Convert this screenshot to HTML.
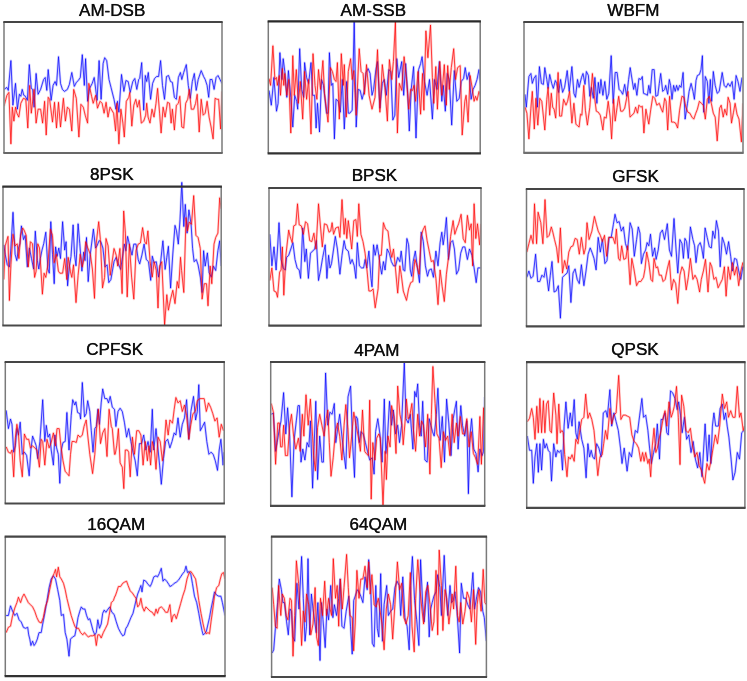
<!DOCTYPE html>
<html><head><meta charset="utf-8"><style>
html,body{margin:0;padding:0;background:#fff;width:747px;height:681px;overflow:hidden}
svg{display:block}
text{font-family:"Liberation Sans",sans-serif;font-size:16.5px;fill:#111;stroke:#111;stroke-width:0.1px}
</style></head><body>
<svg width="747" height="681" viewBox="0 0 747 681">
<defs><filter id="bl" x="-5%" y="-5%" width="110%" height="110%"><feGaussianBlur stdDeviation="0.3"/></filter><clipPath id="c0"><rect x="4.5" y="22.5" width="217" height="130.0"/></clipPath><clipPath id="c1"><rect x="268.8" y="21.9" width="210.89999999999998" height="131.0"/></clipPath><clipPath id="c2"><rect x="524.5" y="22.5" width="218" height="129.8"/></clipPath><clipPath id="c3"><rect x="3.5" y="178.6" width="217.2" height="146.4"/></clipPath><clipPath id="c4"><rect x="269.5" y="188.5" width="211" height="136.60000000000002"/></clipPath><clipPath id="c5"><rect x="527.0" y="189.5" width="216.5" height="136.39999999999998"/></clipPath><clipPath id="c6"><rect x="5.8" y="362.5" width="217.89999999999998" height="140.5"/></clipPath><clipPath id="c7"><rect x="271.2" y="362.5" width="213.0" height="142.8"/></clipPath><clipPath id="c8"><rect x="527.2" y="362.7" width="217.19999999999993" height="144.60000000000002"/></clipPath><clipPath id="c9"><rect x="5.8" y="537.1" width="218.7" height="138.5"/></clipPath><clipPath id="c10"><rect x="272.1" y="537.1" width="213.79999999999995" height="139.39999999999998"/></clipPath></defs>
<g filter="url(#bl)">
<g clip-path="url(#c0)" fill="none" stroke-opacity="0.72" stroke-width="1.0" stroke-linejoin="round"><polyline points="4.0,89.4 6.9,87.4 8.3,90.4 10.9,60.6 12.9,105.2 15.5,83.4 17.4,109.2 19.4,94.3 20.8,96.3 22.2,89.4 23.8,95.3 25.4,96.3 27.4,100.3 29.3,64.6 31.3,88.4 32.7,89.4 34.1,107.2 36.1,73.5 38.1,94.3 40.6,89.4 43.6,79.5 45.2,77.5 46.8,90.4 48.2,69.6 51.1,100.3 53.1,85.4 55.1,81.5 56.5,85.4 58.5,56.7 60.5,83.4 62.4,89.4 64.4,91.4 67.4,89.4 69.4,84.4 71.8,72.5 74.3,86.4 76.3,82.4 78.3,80.5 80.3,77.5 82.3,54.7 84.3,85.4 85.6,58.7 87.6,101.3 89.6,88.4 92.2,83.4 94.2,77.5 97.1,100.3 99.1,60.6 101.1,99.3 103.1,63.6 104.7,57.7 106.7,60.6 109.0,79.5 111.0,87.4 114.0,99.3 115.9,109.2 117.5,101.3 118.9,112.2 121.5,74.5 123.9,91.4 125.9,80.5 128.2,81.5 130.2,92.4 132.8,81.5 134.8,78.5 136.8,89.4 138.7,79.5 139.7,78.5 141.7,62.6 143.7,110.2 145.3,75.5 146.7,81.5 148.3,72.5 150.6,99.3 152.6,83.4 154.6,78.5 156.6,76.5 158.6,76.5 160.6,60.6 162.5,85.4 164.5,99.3 166.5,76.5 168.5,75.5 170.5,81.5 172.4,82.4 174.4,97.3 176.4,99.3 178.4,77.5 180.4,72.5 181.8,79.5 183.7,72.5 186.3,64.6 188.3,85.4 190.3,98.3 192.3,81.5 194.3,73.5 196.2,90.4 198.2,79.5 201.2,70.6 203.6,76.5 205.2,79.5 207.1,85.4 208.7,97.3 210.1,79.5 212.1,79.5 214.1,89.4 216.1,77.5 218.0,75.5 220.0,79.5 222.0,83.4" stroke="#0000ff" stroke-opacity="0.2" stroke-width="2.4"/><polyline points="4.0,89.4 6.9,87.4 8.3,90.4 10.9,60.6 12.9,105.2 15.5,83.4 17.4,109.2 19.4,94.3 20.8,96.3 22.2,89.4 23.8,95.3 25.4,96.3 27.4,100.3 29.3,64.6 31.3,88.4 32.7,89.4 34.1,107.2 36.1,73.5 38.1,94.3 40.6,89.4 43.6,79.5 45.2,77.5 46.8,90.4 48.2,69.6 51.1,100.3 53.1,85.4 55.1,81.5 56.5,85.4 58.5,56.7 60.5,83.4 62.4,89.4 64.4,91.4 67.4,89.4 69.4,84.4 71.8,72.5 74.3,86.4 76.3,82.4 78.3,80.5 80.3,77.5 82.3,54.7 84.3,85.4 85.6,58.7 87.6,101.3 89.6,88.4 92.2,83.4 94.2,77.5 97.1,100.3 99.1,60.6 101.1,99.3 103.1,63.6 104.7,57.7 106.7,60.6 109.0,79.5 111.0,87.4 114.0,99.3 115.9,109.2 117.5,101.3 118.9,112.2 121.5,74.5 123.9,91.4 125.9,80.5 128.2,81.5 130.2,92.4 132.8,81.5 134.8,78.5 136.8,89.4 138.7,79.5 139.7,78.5 141.7,62.6 143.7,110.2 145.3,75.5 146.7,81.5 148.3,72.5 150.6,99.3 152.6,83.4 154.6,78.5 156.6,76.5 158.6,76.5 160.6,60.6 162.5,85.4 164.5,99.3 166.5,76.5 168.5,75.5 170.5,81.5 172.4,82.4 174.4,97.3 176.4,99.3 178.4,77.5 180.4,72.5 181.8,79.5 183.7,72.5 186.3,64.6 188.3,85.4 190.3,98.3 192.3,81.5 194.3,73.5 196.2,90.4 198.2,79.5 201.2,70.6 203.6,76.5 205.2,79.5 207.1,85.4 208.7,97.3 210.1,79.5 212.1,79.5 214.1,89.4 216.1,77.5 218.0,75.5 220.0,79.5 222.0,83.4" stroke="#0000ff"/><polyline points="4.0,106.2 6.9,95.3 8.9,92.4 10.9,143.9 12.3,107.2 13.9,121.1 15.5,107.2 16.9,113.2 18.8,117.1 20.8,103.3 23.4,98.3 25.8,99.3 27.8,128.0 29.7,85.4 31.3,113.2 33.3,95.3 34.1,89.4 36.1,123.1 38.1,109.2 40.6,109.2 42.6,123.1 44.6,101.3 46.2,135.0 48.2,97.3 49.6,99.3 52.5,122.1 54.5,102.3 56.5,128.0 58.5,102.3 60.5,127.0 63.4,98.3 65.4,121.1 67.4,107.2 69.4,109.2 71.8,131.0 73.7,89.4 76.3,98.3 78.9,137.0 80.9,104.3 83.3,107.2 85.2,115.2 87.6,123.1 88.8,83.4 91.6,96.3 93.2,103.3 95.6,95.3 97.5,108.2 100.1,101.3 102.1,103.3 104.1,113.2 106.1,102.3 108.0,117.1 110.0,107.2 113.6,113.2 115.6,131.0 116.9,103.3 118.9,143.9 120.9,109.2 122.9,123.1 124.3,137.0 126.3,101.3 128.8,97.3 129.8,92.4 131.8,126.1 133.8,105.2 135.8,99.3 137.4,107.2 139.3,100.3 141.3,123.1 143.7,121.1 145.7,115.2 146.7,103.3 148.1,117.1 150.0,123.1 152.0,109.2 154.0,117.1 156.0,103.3 157.6,88.4 159.6,113.2 161.1,133.0 163.1,107.2 165.1,117.1 167.5,102.3 169.5,103.3 171.1,123.1 172.4,109.2 174.4,130.0 176.4,105.2 178.4,103.3 179.8,96.3 181.8,127.0 183.7,128.0 185.7,103.3 187.7,99.3 189.3,89.4 191.3,109.2 193.7,109.2 195.6,103.3 197.2,94.3 199.2,132.0 201.2,99.3 203.2,115.2 205.2,113.2 207.1,101.3 209.1,117.1 211.1,127.0 213.1,138.9 215.1,98.3 217.0,99.3 218.6,99.3 220.6,129.0 222.0,91.4" stroke="#ff0000" stroke-opacity="0.2" stroke-width="2.4"/><polyline points="4.0,106.2 6.9,95.3 8.9,92.4 10.9,143.9 12.3,107.2 13.9,121.1 15.5,107.2 16.9,113.2 18.8,117.1 20.8,103.3 23.4,98.3 25.8,99.3 27.8,128.0 29.7,85.4 31.3,113.2 33.3,95.3 34.1,89.4 36.1,123.1 38.1,109.2 40.6,109.2 42.6,123.1 44.6,101.3 46.2,135.0 48.2,97.3 49.6,99.3 52.5,122.1 54.5,102.3 56.5,128.0 58.5,102.3 60.5,127.0 63.4,98.3 65.4,121.1 67.4,107.2 69.4,109.2 71.8,131.0 73.7,89.4 76.3,98.3 78.9,137.0 80.9,104.3 83.3,107.2 85.2,115.2 87.6,123.1 88.8,83.4 91.6,96.3 93.2,103.3 95.6,95.3 97.5,108.2 100.1,101.3 102.1,103.3 104.1,113.2 106.1,102.3 108.0,117.1 110.0,107.2 113.6,113.2 115.6,131.0 116.9,103.3 118.9,143.9 120.9,109.2 122.9,123.1 124.3,137.0 126.3,101.3 128.8,97.3 129.8,92.4 131.8,126.1 133.8,105.2 135.8,99.3 137.4,107.2 139.3,100.3 141.3,123.1 143.7,121.1 145.7,115.2 146.7,103.3 148.1,117.1 150.0,123.1 152.0,109.2 154.0,117.1 156.0,103.3 157.6,88.4 159.6,113.2 161.1,133.0 163.1,107.2 165.1,117.1 167.5,102.3 169.5,103.3 171.1,123.1 172.4,109.2 174.4,130.0 176.4,105.2 178.4,103.3 179.8,96.3 181.8,127.0 183.7,128.0 185.7,103.3 187.7,99.3 189.3,89.4 191.3,109.2 193.7,109.2 195.6,103.3 197.2,94.3 199.2,132.0 201.2,99.3 203.2,115.2 205.2,113.2 207.1,101.3 209.1,117.1 211.1,127.0 213.1,138.9 215.1,98.3 217.0,99.3 218.6,99.3 220.6,129.0 222.0,91.4" stroke="#ff0000"/></g>
<line x1="4" y1="22" x2="4" y2="153" stroke="#7a7a7a" stroke-width="1.5"/>
<line x1="222" y1="22" x2="222" y2="153" stroke="#7a7a7a" stroke-width="1.5"/>
<line x1="3.3" y1="22" x2="222.7" y2="22" stroke="#454545" stroke-width="2.2"/>
<line x1="3.3" y1="153" x2="222.7" y2="153" stroke="#686868" stroke-width="2.2"/>
<text transform="translate(79.00,16.10) scale(1.035,1)" style="stroke-width:0.7px;stroke-opacity:0.2">AM-DSB</text>
<text transform="translate(79.00,16.10) scale(1.035,1)">AM-DSB</text>
<g clip-path="url(#c1)" fill="none" stroke-opacity="0.72" stroke-width="1.0" stroke-linejoin="round"><polyline points="269.0,90.4 271.3,105.2 273.9,77.5 276.5,111.2 278.1,103.3 279.9,52.7 281.9,79.5 283.2,58.7 284.8,71.5 286.8,97.3 288.4,70.6 290.8,97.3 292.8,127.0 294.7,95.3 296.7,101.3 297.7,109.2 299.7,48.7 301.7,89.4 303.7,97.3 304.6,62.6 306.6,77.5 308.6,83.4 311.0,62.6 312.6,95.3 314.6,95.3 316.1,128.0 317.5,103.3 319.5,132.0 321.5,79.5 323.5,85.4 326.5,113.2 328.0,113.2 329.4,52.7 331.4,85.4 332.8,83.4 334.4,138.9 336.0,99.3 338.3,101.3 340.3,112.2 342.3,79.5 344.3,129.0 346.7,81.5 348.3,113.2 349.8,113.2 352.2,110.2 354.2,20.0 356.2,127.0 358.2,89.4 360.2,90.4 362.1,99.3 364.1,91.4 366.1,72.5 368.1,68.6 370.1,73.5 372.0,95.3 373.6,89.4 375.9,69.6 377.5,61.6 379.9,108.2 382.3,83.4 384.3,79.5 386.3,95.3 388.8,69.6 390.8,71.5 392.8,120.1 394.8,115.2 396.8,58.7 398.7,77.5 401.7,61.6 403.7,95.3 405.7,63.6 407.7,93.3 409.3,131.0 411.2,89.4 413.6,66.6 416.0,138.0 418.6,69.6 420.6,63.6 422.1,56.7 424.5,81.5 427.1,95.3 429.5,79.5 432.4,119.1 434.4,79.5 437.0,89.4 439.4,61.6 441.8,101.3 443.3,85.4 445.3,111.2 447.3,73.5 449.3,79.5 451.7,125.1 454.3,70.6 456.8,101.3 459.2,98.3 461.2,81.5 463.6,78.5 465.2,67.6 467.1,79.5 469.1,72.5 471.1,99.3 473.1,89.4 475.1,85.4 477.0,79.5 479.0,69.6 480.6,85.4" stroke="#0000ff" stroke-opacity="0.2" stroke-width="2.4"/><polyline points="269.0,90.4 271.3,105.2 273.9,77.5 276.5,111.2 278.1,103.3 279.9,52.7 281.9,79.5 283.2,58.7 284.8,71.5 286.8,97.3 288.4,70.6 290.8,97.3 292.8,127.0 294.7,95.3 296.7,101.3 297.7,109.2 299.7,48.7 301.7,89.4 303.7,97.3 304.6,62.6 306.6,77.5 308.6,83.4 311.0,62.6 312.6,95.3 314.6,95.3 316.1,128.0 317.5,103.3 319.5,132.0 321.5,79.5 323.5,85.4 326.5,113.2 328.0,113.2 329.4,52.7 331.4,85.4 332.8,83.4 334.4,138.9 336.0,99.3 338.3,101.3 340.3,112.2 342.3,79.5 344.3,129.0 346.7,81.5 348.3,113.2 349.8,113.2 352.2,110.2 354.2,20.0 356.2,127.0 358.2,89.4 360.2,90.4 362.1,99.3 364.1,91.4 366.1,72.5 368.1,68.6 370.1,73.5 372.0,95.3 373.6,89.4 375.9,69.6 377.5,61.6 379.9,108.2 382.3,83.4 384.3,79.5 386.3,95.3 388.8,69.6 390.8,71.5 392.8,120.1 394.8,115.2 396.8,58.7 398.7,77.5 401.7,61.6 403.7,95.3 405.7,63.6 407.7,93.3 409.3,131.0 411.2,89.4 413.6,66.6 416.0,138.0 418.6,69.6 420.6,63.6 422.1,56.7 424.5,81.5 427.1,95.3 429.5,79.5 432.4,119.1 434.4,79.5 437.0,89.4 439.4,61.6 441.8,101.3 443.3,85.4 445.3,111.2 447.3,73.5 449.3,79.5 451.7,125.1 454.3,70.6 456.8,101.3 459.2,98.3 461.2,81.5 463.6,78.5 465.2,67.6 467.1,79.5 469.1,72.5 471.1,99.3 473.1,89.4 475.1,85.4 477.0,79.5 479.0,69.6 480.6,85.4" stroke="#0000ff"/><polyline points="269.0,78.5 270.6,85.4 272.9,45.8 274.9,79.5 276.5,77.5 277.3,85.4 279.3,75.5 280.5,95.3 282.4,68.6 283.8,85.4 284.8,73.5 286.8,95.3 288.8,79.5 290.8,133.0 292.8,55.7 294.3,95.3 296.3,69.6 298.3,103.3 300.3,81.5 302.7,119.1 304.6,71.5 306.6,99.3 308.6,79.5 311.0,134.0 313.0,53.7 315.0,85.4 316.9,99.3 318.5,69.6 320.5,89.4 322.9,60.6 324.5,93.3 328.0,122.1 330.4,67.6 332.4,71.5 334.4,79.5 336.0,81.5 337.4,62.6 339.3,119.1 341.3,53.7 343.3,85.4 344.3,64.6 346.3,117.1 348.3,71.5 350.6,58.7 352.2,79.5 353.8,70.6 356.2,115.2 359.2,48.7 361.1,71.5 363.1,73.5 364.5,94.3 366.5,64.6 369.1,95.3 372.0,109.2 375.0,97.3 377.5,49.7 379.9,112.2 382.3,64.6 384.9,87.4 387.4,121.1 389.4,59.6 391.8,79.5 393.4,61.6 395.4,22.0 397.4,133.0 399.3,83.4 401.7,90.4 404.1,56.7 406.7,81.5 408.7,109.2 410.6,89.4 412.6,90.4 414.0,85.4 415.6,101.3 418.0,71.5 420.6,114.2 422.5,73.5 423.9,110.2 425.9,30.9 427.9,57.7 430.5,25.0 432.4,77.5 433.8,103.3 435.8,66.6 437.4,109.2 439.8,61.6 441.8,95.3 444.3,64.6 446.3,105.2 447.7,65.6 449.3,89.4 451.3,67.6 453.7,48.7 455.6,79.5 457.6,67.6 460.2,65.6 462.2,135.0 464.8,101.3 466.1,95.3 468.1,122.1 470.1,75.5 472.1,87.4 474.1,101.3 475.5,96.3 477.0,100.3 479.0,91.4 480.6,96.3" stroke="#ff0000" stroke-opacity="0.2" stroke-width="2.4"/><polyline points="269.0,78.5 270.6,85.4 272.9,45.8 274.9,79.5 276.5,77.5 277.3,85.4 279.3,75.5 280.5,95.3 282.4,68.6 283.8,85.4 284.8,73.5 286.8,95.3 288.8,79.5 290.8,133.0 292.8,55.7 294.3,95.3 296.3,69.6 298.3,103.3 300.3,81.5 302.7,119.1 304.6,71.5 306.6,99.3 308.6,79.5 311.0,134.0 313.0,53.7 315.0,85.4 316.9,99.3 318.5,69.6 320.5,89.4 322.9,60.6 324.5,93.3 328.0,122.1 330.4,67.6 332.4,71.5 334.4,79.5 336.0,81.5 337.4,62.6 339.3,119.1 341.3,53.7 343.3,85.4 344.3,64.6 346.3,117.1 348.3,71.5 350.6,58.7 352.2,79.5 353.8,70.6 356.2,115.2 359.2,48.7 361.1,71.5 363.1,73.5 364.5,94.3 366.5,64.6 369.1,95.3 372.0,109.2 375.0,97.3 377.5,49.7 379.9,112.2 382.3,64.6 384.9,87.4 387.4,121.1 389.4,59.6 391.8,79.5 393.4,61.6 395.4,22.0 397.4,133.0 399.3,83.4 401.7,90.4 404.1,56.7 406.7,81.5 408.7,109.2 410.6,89.4 412.6,90.4 414.0,85.4 415.6,101.3 418.0,71.5 420.6,114.2 422.5,73.5 423.9,110.2 425.9,30.9 427.9,57.7 430.5,25.0 432.4,77.5 433.8,103.3 435.8,66.6 437.4,109.2 439.8,61.6 441.8,95.3 444.3,64.6 446.3,105.2 447.7,65.6 449.3,89.4 451.3,67.6 453.7,48.7 455.6,79.5 457.6,67.6 460.2,65.6 462.2,135.0 464.8,101.3 466.1,95.3 468.1,122.1 470.1,75.5 472.1,87.4 474.1,101.3 475.5,96.3 477.0,100.3 479.0,91.4 480.6,96.3" stroke="#ff0000"/></g>
<line x1="268.3" y1="21.4" x2="268.3" y2="153.4" stroke="#7a7a7a" stroke-width="1.5"/>
<line x1="480.2" y1="21.4" x2="480.2" y2="153.4" stroke="#7a7a7a" stroke-width="1.5"/>
<line x1="267.6" y1="21.4" x2="480.9" y2="21.4" stroke="#2a2a2a" stroke-width="2.2"/>
<line x1="267.6" y1="153.4" x2="480.9" y2="153.4" stroke="#303030" stroke-width="2.2"/>
<text transform="translate(340.60,15.60) scale(1.035,1)" style="stroke-width:0.7px;stroke-opacity:0.2">AM-SSB</text>
<text transform="translate(340.60,15.60) scale(1.035,1)">AM-SSB</text>
<g clip-path="url(#c2)" fill="none" stroke-opacity="0.72" stroke-width="1.0" stroke-linejoin="round"><polyline points="525.0,94.3 526.3,107.2 528.9,76.5 530.9,73.5 532.3,83.4 533.9,78.5 535.9,75.5 537.4,107.2 539.4,66.6 541.4,83.4 543.4,84.4 544.8,67.6 546.8,79.5 548.1,88.4 549.7,74.5 551.7,83.4 553.3,88.4 555.3,80.5 556.7,83.4 558.7,92.4 560.6,79.5 562.6,92.4 564.6,87.4 567.2,70.6 569.2,91.4 571.9,66.6 573.9,93.3 575.5,97.3 577.5,79.5 579.1,87.4 581.5,77.5 583.0,73.5 585.0,84.4 586.4,71.5 588.4,75.5 589.8,96.3 591.4,87.4 593.3,98.3 594.9,77.5 596.9,103.3 598.3,82.4 599.7,93.3 600.9,79.5 602.9,95.3 604.8,81.5 606.8,99.3 608.8,93.3 611.2,55.7 613.2,103.3 615.2,72.5 617.1,72.5 619.1,89.4 621.1,91.4 622.7,94.3 624.7,84.4 626.7,96.3 628.6,79.5 630.2,67.6 633.6,89.4 635.0,83.4 636.9,95.3 638.9,78.5 640.9,79.5 642.3,76.5 643.5,93.3 645.9,94.3 647.4,95.3 648.8,85.4 650.2,93.3 652.2,69.6 654.2,69.6 655.8,96.3 657.8,95.3 659.3,83.4 660.7,73.5 662.7,91.4 664.7,89.4 665.7,85.4 667.7,94.3 669.3,79.5 670.6,85.4 672.0,99.3 673.6,85.4 675.2,91.4 676.6,85.4 678.0,90.4 679.6,85.4 681.1,87.4 683.1,72.5 685.1,119.1 687.5,103.3 689.1,91.4 691.1,83.4 693.0,91.4 694.4,99.3 696.0,80.5 697.4,75.5 699.4,74.5 701.0,69.6 702.4,55.7 703.7,112.2 705.3,76.5 707.3,81.5 708.9,103.3 710.3,79.5 711.7,101.3 713.3,71.5 715.2,85.4 717.2,93.3 719.2,91.4 722.2,72.5 724.2,85.4 726.1,87.4 728.1,83.4 730.1,86.4 732.1,81.5 734.1,99.3 736.1,75.5 738.0,81.5 740.0,91.4 742.0,77.5" stroke="#0000ff" stroke-opacity="0.2" stroke-width="2.4"/><polyline points="525.0,94.3 526.3,107.2 528.9,76.5 530.9,73.5 532.3,83.4 533.9,78.5 535.9,75.5 537.4,107.2 539.4,66.6 541.4,83.4 543.4,84.4 544.8,67.6 546.8,79.5 548.1,88.4 549.7,74.5 551.7,83.4 553.3,88.4 555.3,80.5 556.7,83.4 558.7,92.4 560.6,79.5 562.6,92.4 564.6,87.4 567.2,70.6 569.2,91.4 571.9,66.6 573.9,93.3 575.5,97.3 577.5,79.5 579.1,87.4 581.5,77.5 583.0,73.5 585.0,84.4 586.4,71.5 588.4,75.5 589.8,96.3 591.4,87.4 593.3,98.3 594.9,77.5 596.9,103.3 598.3,82.4 599.7,93.3 600.9,79.5 602.9,95.3 604.8,81.5 606.8,99.3 608.8,93.3 611.2,55.7 613.2,103.3 615.2,72.5 617.1,72.5 619.1,89.4 621.1,91.4 622.7,94.3 624.7,84.4 626.7,96.3 628.6,79.5 630.2,67.6 633.6,89.4 635.0,83.4 636.9,95.3 638.9,78.5 640.9,79.5 642.3,76.5 643.5,93.3 645.9,94.3 647.4,95.3 648.8,85.4 650.2,93.3 652.2,69.6 654.2,69.6 655.8,96.3 657.8,95.3 659.3,83.4 660.7,73.5 662.7,91.4 664.7,89.4 665.7,85.4 667.7,94.3 669.3,79.5 670.6,85.4 672.0,99.3 673.6,85.4 675.2,91.4 676.6,85.4 678.0,90.4 679.6,85.4 681.1,87.4 683.1,72.5 685.1,119.1 687.5,103.3 689.1,91.4 691.1,83.4 693.0,91.4 694.4,99.3 696.0,80.5 697.4,75.5 699.4,74.5 701.0,69.6 702.4,55.7 703.7,112.2 705.3,76.5 707.3,81.5 708.9,103.3 710.3,79.5 711.7,101.3 713.3,71.5 715.2,85.4 717.2,93.3 719.2,91.4 722.2,72.5 724.2,85.4 726.1,87.4 728.1,83.4 730.1,86.4 732.1,81.5 734.1,99.3 736.1,75.5 738.0,81.5 740.0,91.4 742.0,77.5" stroke="#0000ff"/><polyline points="525.0,107.2 526.9,113.2 528.9,138.9 530.9,108.2 532.3,91.4 534.3,129.0 535.9,98.3 537.8,125.1 539.8,98.3 541.8,101.3 544.8,130.0 546.8,99.3 548.1,87.4 549.7,115.2 551.3,93.3 552.7,107.2 554.1,109.2 555.7,118.1 558.1,72.5 559.6,116.1 561.6,116.1 563.6,99.3 566.0,105.2 567.6,101.3 569.6,91.4 571.9,123.1 573.9,103.3 575.9,124.1 577.9,126.1 579.1,127.0 580.5,114.2 581.9,115.2 583.8,85.4 585.4,110.2 587.4,125.1 589.8,107.2 592.4,73.5 594.3,95.3 596.3,111.2 598.3,112.2 600.3,115.2 602.9,130.0 604.3,117.1 606.2,118.1 608.2,101.3 610.2,117.1 611.6,138.9 613.6,99.3 615.2,121.1 617.1,107.2 618.7,96.3 620.7,111.2 622.7,111.2 624.7,108.2 628.0,91.4 630.0,117.1 634.0,113.2 635.6,107.2 637.5,113.2 638.9,105.2 640.9,107.2 642.3,106.2 643.9,133.0 645.9,109.2 647.4,117.1 648.8,124.1 650.8,109.2 652.8,96.3 654.8,98.3 656.8,105.2 659.3,103.3 661.3,109.2 662.7,112.2 664.7,98.3 666.1,101.3 667.7,130.0 669.6,96.3 671.6,122.1 673.6,122.1 675.6,123.1 677.6,128.0 679.6,110.2 681.9,96.3 683.9,97.3 685.9,107.2 687.9,112.2 689.9,113.2 691.9,117.1 693.8,119.1 695.8,113.2 697.4,109.2 699.4,101.3 701.4,103.3 703.3,105.2 705.3,119.1 707.3,99.3 709.3,96.3 711.3,103.3 713.3,113.2 715.2,117.1 717.2,140.9 719.6,108.2 721.2,105.2 723.2,117.1 724.8,109.2 726.7,115.2 728.1,97.3 730.1,103.3 731.5,123.1 733.5,112.2 735.1,103.3 737.0,114.2 739.0,119.1 741.4,141.9 743.0,103.3" stroke="#ff0000" stroke-opacity="0.2" stroke-width="2.4"/><polyline points="525.0,107.2 526.9,113.2 528.9,138.9 530.9,108.2 532.3,91.4 534.3,129.0 535.9,98.3 537.8,125.1 539.8,98.3 541.8,101.3 544.8,130.0 546.8,99.3 548.1,87.4 549.7,115.2 551.3,93.3 552.7,107.2 554.1,109.2 555.7,118.1 558.1,72.5 559.6,116.1 561.6,116.1 563.6,99.3 566.0,105.2 567.6,101.3 569.6,91.4 571.9,123.1 573.9,103.3 575.9,124.1 577.9,126.1 579.1,127.0 580.5,114.2 581.9,115.2 583.8,85.4 585.4,110.2 587.4,125.1 589.8,107.2 592.4,73.5 594.3,95.3 596.3,111.2 598.3,112.2 600.3,115.2 602.9,130.0 604.3,117.1 606.2,118.1 608.2,101.3 610.2,117.1 611.6,138.9 613.6,99.3 615.2,121.1 617.1,107.2 618.7,96.3 620.7,111.2 622.7,111.2 624.7,108.2 628.0,91.4 630.0,117.1 634.0,113.2 635.6,107.2 637.5,113.2 638.9,105.2 640.9,107.2 642.3,106.2 643.9,133.0 645.9,109.2 647.4,117.1 648.8,124.1 650.8,109.2 652.8,96.3 654.8,98.3 656.8,105.2 659.3,103.3 661.3,109.2 662.7,112.2 664.7,98.3 666.1,101.3 667.7,130.0 669.6,96.3 671.6,122.1 673.6,122.1 675.6,123.1 677.6,128.0 679.6,110.2 681.9,96.3 683.9,97.3 685.9,107.2 687.9,112.2 689.9,113.2 691.9,117.1 693.8,119.1 695.8,113.2 697.4,109.2 699.4,101.3 701.4,103.3 703.3,105.2 705.3,119.1 707.3,99.3 709.3,96.3 711.3,103.3 713.3,113.2 715.2,117.1 717.2,140.9 719.6,108.2 721.2,105.2 723.2,117.1 724.8,109.2 726.7,115.2 728.1,97.3 730.1,103.3 731.5,123.1 733.5,112.2 735.1,103.3 737.0,114.2 739.0,119.1 741.4,141.9 743.0,103.3" stroke="#ff0000"/></g>
<line x1="524" y1="22" x2="524" y2="152.8" stroke="#7a7a7a" stroke-width="1.5"/>
<line x1="743" y1="22" x2="743" y2="152.8" stroke="#7a7a7a" stroke-width="1.5"/>
<line x1="523.3" y1="22" x2="743.7" y2="22" stroke="#454545" stroke-width="2.2"/>
<line x1="523.3" y1="152.8" x2="743.7" y2="152.8" stroke="#707070" stroke-width="2.2"/>
<text transform="translate(607.30,16.00) scale(1.035,1)" style="stroke-width:0.7px;stroke-opacity:0.2">WBFM</text>
<text transform="translate(607.30,16.00) scale(1.035,1)">WBFM</text>
<g clip-path="url(#c3)" fill="none" stroke-opacity="0.72" stroke-width="1.0" stroke-linejoin="round"><polyline points="3.8,244.8 5.2,254.3 7.3,264.8 9.4,266.9 10.9,248.0 13.0,212.3 15.1,254.3 16.8,260.6 18.5,248.0 19.9,243.8 21.4,225.9 23.5,239.6 25.2,235.4 27.3,266.9 29.4,248.0 31.5,258.5 33.6,269.0 35.3,231.2 37.4,260.6 38.8,269.0 40.3,258.5 42.0,250.1 43.7,243.8 45.8,232.2 47.9,269.0 49.3,273.2 50.8,221.7 52.5,254.3 54.2,283.7 55.6,246.9 57.1,256.4 58.8,248.0 60.5,258.5 62.6,221.7 64.7,250.1 66.1,241.7 67.6,285.8 69.3,266.9 71.0,256.4 73.1,224.9 74.5,254.3 76.0,265.8 78.1,223.8 79.8,243.8 81.9,271.1 83.6,252.2 85.0,260.6 86.5,237.5 88.2,281.6 90.3,254.3 93.4,229.1 95.5,248.0 97.0,245.9 99.1,240.6 100.8,241.7 102.9,248.0 105.0,266.9 107.1,264.8 108.8,282.6 110.9,279.5 114.0,261.7 116.2,257.3 118.4,263.9 120.6,269.4 122.8,255.1 124.3,244.1 125.9,250.7 127.6,236.4 129.8,246.3 132.0,255.1 133.8,244.1 136.0,244.1 138.2,259.5 139.7,263.9 141.9,255.1 144.1,244.1 146.3,259.5 148.5,261.7 150.7,280.4 152.3,256.2 154.1,262.8 156.3,261.7 158.5,277.1 160.2,266.1 162.9,240.8 165.1,269.4 166.8,257.3 168.4,246.3 170.6,288.1 172.8,254.0 175.0,225.4 176.5,230.9 178.3,244.1 180.0,219.9 181.8,182.4 183.8,226.5 185.3,204.4 187.1,233.1 188.9,209.9 191.1,224.3 192.6,248.5 194.1,261.7 196.3,259.5 198.1,265.0 200.3,277.1 202.1,292.5 203.6,250.7 205.2,266.1 207.4,252.9 209.1,272.7 211.3,277.1 213.5,266.1 215.7,270.5 217.9,250.7 219.7,240.8 221.2,266.1" stroke="#0000ff" stroke-opacity="0.2" stroke-width="2.4"/><polyline points="3.8,244.8 5.2,254.3 7.3,264.8 9.4,266.9 10.9,248.0 13.0,212.3 15.1,254.3 16.8,260.6 18.5,248.0 19.9,243.8 21.4,225.9 23.5,239.6 25.2,235.4 27.3,266.9 29.4,248.0 31.5,258.5 33.6,269.0 35.3,231.2 37.4,260.6 38.8,269.0 40.3,258.5 42.0,250.1 43.7,243.8 45.8,232.2 47.9,269.0 49.3,273.2 50.8,221.7 52.5,254.3 54.2,283.7 55.6,246.9 57.1,256.4 58.8,248.0 60.5,258.5 62.6,221.7 64.7,250.1 66.1,241.7 67.6,285.8 69.3,266.9 71.0,256.4 73.1,224.9 74.5,254.3 76.0,265.8 78.1,223.8 79.8,243.8 81.9,271.1 83.6,252.2 85.0,260.6 86.5,237.5 88.2,281.6 90.3,254.3 93.4,229.1 95.5,248.0 97.0,245.9 99.1,240.6 100.8,241.7 102.9,248.0 105.0,266.9 107.1,264.8 108.8,282.6 110.9,279.5 114.0,261.7 116.2,257.3 118.4,263.9 120.6,269.4 122.8,255.1 124.3,244.1 125.9,250.7 127.6,236.4 129.8,246.3 132.0,255.1 133.8,244.1 136.0,244.1 138.2,259.5 139.7,263.9 141.9,255.1 144.1,244.1 146.3,259.5 148.5,261.7 150.7,280.4 152.3,256.2 154.1,262.8 156.3,261.7 158.5,277.1 160.2,266.1 162.9,240.8 165.1,269.4 166.8,257.3 168.4,246.3 170.6,288.1 172.8,254.0 175.0,225.4 176.5,230.9 178.3,244.1 180.0,219.9 181.8,182.4 183.8,226.5 185.3,204.4 187.1,233.1 188.9,209.9 191.1,224.3 192.6,248.5 194.1,261.7 196.3,259.5 198.1,265.0 200.3,277.1 202.1,292.5 203.6,250.7 205.2,266.1 207.4,252.9 209.1,272.7 211.3,277.1 213.5,266.1 215.7,270.5 217.9,250.7 219.7,240.8 221.2,266.1" stroke="#0000ff"/><polyline points="3.8,279.5 5.2,245.9 8.0,236.4 9.4,300.5 10.9,264.8 13.0,234.3 15.1,245.9 17.2,243.8 18.9,258.5 20.6,235.4 22.7,228.0 24.1,230.1 26.2,235.4 28.3,266.9 30.4,241.7 32.5,243.8 34.6,277.4 36.1,271.1 37.8,243.8 39.5,248.0 40.9,269.0 42.4,294.2 44.1,273.2 45.8,277.4 47.9,264.8 50.4,229.1 52.5,235.4 54.2,262.7 56.3,254.3 58.4,271.1 59.8,273.2 62.6,273.2 64.7,258.5 66.8,279.5 68.2,257.4 70.3,271.1 71.8,277.4 73.5,264.8 76.0,302.6 78.1,275.3 80.2,254.3 82.3,266.9 84.4,256.4 85.7,241.7 87.8,248.0 90.3,254.3 92.4,269.0 94.5,298.4 96.2,243.8 98.7,221.7 100.4,239.6 102.5,287.9 104.6,277.4 106.0,238.5 108.1,245.9 110.2,275.3 114.0,248.5 116.2,255.1 117.7,266.1 119.9,248.5 122.1,293.6 123.7,211.0 125.4,233.1 127.2,296.9 129.4,244.1 131.6,277.1 133.8,299.1 136.0,250.7 138.2,244.1 140.4,243.0 142.6,227.6 144.8,241.9 146.3,244.1 147.9,230.9 150.1,261.7 152.3,277.1 154.1,261.7 156.3,270.5 158.0,308.0 159.6,266.1 161.8,261.7 164.6,325.1 166.8,294.7 168.4,310.2 170.6,299.1 172.8,290.3 175.0,303.6 177.2,281.5 178.7,288.1 180.5,257.3 181.6,270.5 183.8,292.5 186.0,217.6 187.5,230.9 189.3,222.1 191.5,224.3 193.7,195.6 195.9,235.3 198.1,237.5 200.3,248.5 202.1,299.1 204.3,283.7 206.5,283.7 208.0,305.8 210.2,266.1 211.8,283.7 214.0,244.1 215.7,237.5 217.9,233.1 219.7,197.8 221.2,208.8" stroke="#ff0000" stroke-opacity="0.2" stroke-width="2.4"/><polyline points="3.8,279.5 5.2,245.9 8.0,236.4 9.4,300.5 10.9,264.8 13.0,234.3 15.1,245.9 17.2,243.8 18.9,258.5 20.6,235.4 22.7,228.0 24.1,230.1 26.2,235.4 28.3,266.9 30.4,241.7 32.5,243.8 34.6,277.4 36.1,271.1 37.8,243.8 39.5,248.0 40.9,269.0 42.4,294.2 44.1,273.2 45.8,277.4 47.9,264.8 50.4,229.1 52.5,235.4 54.2,262.7 56.3,254.3 58.4,271.1 59.8,273.2 62.6,273.2 64.7,258.5 66.8,279.5 68.2,257.4 70.3,271.1 71.8,277.4 73.5,264.8 76.0,302.6 78.1,275.3 80.2,254.3 82.3,266.9 84.4,256.4 85.7,241.7 87.8,248.0 90.3,254.3 92.4,269.0 94.5,298.4 96.2,243.8 98.7,221.7 100.4,239.6 102.5,287.9 104.6,277.4 106.0,238.5 108.1,245.9 110.2,275.3 114.0,248.5 116.2,255.1 117.7,266.1 119.9,248.5 122.1,293.6 123.7,211.0 125.4,233.1 127.2,296.9 129.4,244.1 131.6,277.1 133.8,299.1 136.0,250.7 138.2,244.1 140.4,243.0 142.6,227.6 144.8,241.9 146.3,244.1 147.9,230.9 150.1,261.7 152.3,277.1 154.1,261.7 156.3,270.5 158.0,308.0 159.6,266.1 161.8,261.7 164.6,325.1 166.8,294.7 168.4,310.2 170.6,299.1 172.8,290.3 175.0,303.6 177.2,281.5 178.7,288.1 180.5,257.3 181.6,270.5 183.8,292.5 186.0,217.6 187.5,230.9 189.3,222.1 191.5,224.3 193.7,195.6 195.9,235.3 198.1,237.5 200.3,248.5 202.1,299.1 204.3,283.7 206.5,283.7 208.0,305.8 210.2,266.1 211.8,283.7 214.0,244.1 215.7,237.5 217.9,233.1 219.7,197.8 221.2,208.8" stroke="#ff0000"/></g>
<line x1="3" y1="186.6" x2="3" y2="325.5" stroke="#7a7a7a" stroke-width="1.5"/>
<line x1="221.2" y1="186.6" x2="221.2" y2="325.5" stroke="#7a7a7a" stroke-width="1.5"/>
<line x1="2.3" y1="186.6" x2="221.89999999999998" y2="186.6" stroke="#303030" stroke-width="2.2"/>
<line x1="2.3" y1="325.5" x2="221.89999999999998" y2="325.5" stroke="#4a4a4a" stroke-width="2.2"/>
<text transform="translate(89.90,180.10) scale(1.035,1)" style="stroke-width:0.7px;stroke-opacity:0.2">8PSK</text>
<text transform="translate(89.90,180.10) scale(1.035,1)">8PSK</text>
<g clip-path="url(#c4)" fill="none" stroke-opacity="0.72" stroke-width="1.0" stroke-linejoin="round"><polyline points="269.8,234.3 271.9,265.8 274.0,246.9 276.1,270.0 277.5,249.0 279.0,222.7 281.1,259.5 283.2,267.9 285.3,270.0 286.6,257.4 288.7,255.3 290.8,249.0 292.9,242.7 295.0,259.5 297.1,267.9 299.2,270.0 300.6,278.4 302.7,228.0 304.8,261.6 306.3,249.0 308.4,278.4 310.5,253.2 312.6,251.1 314.7,249.0 316.4,240.6 318.5,280.5 320.6,270.0 322.7,257.4 325.2,244.8 326.9,278.4 328.6,255.3 330.0,267.9 331.5,263.7 333.6,249.0 335.3,236.4 337.4,249.0 339.9,274.2 342.0,255.3 344.1,240.6 345.8,249.0 348.3,251.1 350.4,263.7 352.1,259.5 354.2,265.8 355.9,278.4 357.3,242.7 359.4,265.8 361.5,267.9 363.6,267.9 365.1,259.5 366.8,267.9 368.9,251.1 371.0,278.4 372.0,286.8 373.5,244.8 375.2,255.3 377.1,244.8 378.8,255.3 380.2,265.8 381.7,274.2 383.4,261.6 385.1,270.0 387.2,249.0 389.3,253.2 391.4,261.6 393.5,265.8 395.6,265.8 397.7,257.4 399.8,261.6 401.2,251.1 403.3,270.0 404.8,271.0 406.9,238.5 408.6,244.8 410.3,270.0 411.7,276.3 413.2,261.6 415.3,251.1 417.4,267.9 419.5,282.6 421.2,232.2 423.3,241.6 425.4,265.8 427.5,276.3 429.2,270.0 431.3,268.9 433.4,277.3 435.9,251.1 438.0,265.8 440.1,242.7 441.8,232.2 443.2,244.8 444.7,234.3 446.4,217.5 448.5,259.5 450.6,242.7 452.7,240.6 454.4,249.0 456.5,274.2 458.6,270.0 460.7,253.2 462.8,246.9 464.9,246.9 467.4,259.5 469.5,249.0 472.0,255.3 474.1,267.9 476.2,282.6 477.9,267.9 480.0,267.9 481.0,267.9" stroke="#0000ff" stroke-opacity="0.2" stroke-width="2.4"/><polyline points="269.8,234.3 271.9,265.8 274.0,246.9 276.1,270.0 277.5,249.0 279.0,222.7 281.1,259.5 283.2,267.9 285.3,270.0 286.6,257.4 288.7,255.3 290.8,249.0 292.9,242.7 295.0,259.5 297.1,267.9 299.2,270.0 300.6,278.4 302.7,228.0 304.8,261.6 306.3,249.0 308.4,278.4 310.5,253.2 312.6,251.1 314.7,249.0 316.4,240.6 318.5,280.5 320.6,270.0 322.7,257.4 325.2,244.8 326.9,278.4 328.6,255.3 330.0,267.9 331.5,263.7 333.6,249.0 335.3,236.4 337.4,249.0 339.9,274.2 342.0,255.3 344.1,240.6 345.8,249.0 348.3,251.1 350.4,263.7 352.1,259.5 354.2,265.8 355.9,278.4 357.3,242.7 359.4,265.8 361.5,267.9 363.6,267.9 365.1,259.5 366.8,267.9 368.9,251.1 371.0,278.4 372.0,286.8 373.5,244.8 375.2,255.3 377.1,244.8 378.8,255.3 380.2,265.8 381.7,274.2 383.4,261.6 385.1,270.0 387.2,249.0 389.3,253.2 391.4,261.6 393.5,265.8 395.6,265.8 397.7,257.4 399.8,261.6 401.2,251.1 403.3,270.0 404.8,271.0 406.9,238.5 408.6,244.8 410.3,270.0 411.7,276.3 413.2,261.6 415.3,251.1 417.4,267.9 419.5,282.6 421.2,232.2 423.3,241.6 425.4,265.8 427.5,276.3 429.2,270.0 431.3,268.9 433.4,277.3 435.9,251.1 438.0,265.8 440.1,242.7 441.8,232.2 443.2,244.8 444.7,234.3 446.4,217.5 448.5,259.5 450.6,242.7 452.7,240.6 454.4,249.0 456.5,274.2 458.6,270.0 460.7,253.2 462.8,246.9 464.9,246.9 467.4,259.5 469.5,249.0 472.0,255.3 474.1,267.9 476.2,282.6 477.9,267.9 480.0,267.9 481.0,267.9" stroke="#0000ff"/><polyline points="269.8,280.5 271.9,267.9 274.0,291.0 276.1,292.0 277.5,297.3 279.6,272.1 281.1,270.0 282.4,246.9 283.8,295.2 285.9,255.3 288.7,230.1 290.1,236.4 292.2,242.7 293.7,225.9 295.8,224.8 297.5,203.8 299.2,224.8 301.3,225.9 303.4,234.3 305.5,221.7 307.6,223.8 309.7,240.6 311.8,241.6 313.9,233.2 316.0,249.0 318.5,203.8 320.6,228.0 322.3,246.9 324.4,223.8 326.9,224.8 329.0,232.2 330.7,231.1 332.1,222.7 333.6,234.3 335.7,228.0 338.4,226.9 339.9,237.4 342.0,199.6 344.1,234.3 345.4,218.5 346.8,238.5 348.3,220.6 350.0,234.3 351.7,249.0 353.8,220.6 355.9,219.6 357.3,236.4 358.8,203.8 360.9,234.3 363.0,241.6 365.1,253.2 367.2,272.1 368.9,291.0 371.0,291.0 373.1,288.9 375.2,307.8 378.1,288.9 379.6,255.3 381.3,255.3 383.4,222.7 385.5,229.0 388.0,231.1 390.1,249.0 391.8,257.4 393.5,249.0 395.6,270.0 397.7,293.1 399.8,265.8 401.2,274.2 403.3,291.0 406.5,300.4 408.6,288.9 410.7,282.6 412.8,281.5 414.9,259.5 417.0,265.8 419.1,274.2 421.2,236.4 422.9,230.1 425.0,225.9 427.1,240.6 429.2,251.1 431.3,261.6 433.4,260.5 435.9,278.4 438.0,304.6 440.1,270.0 442.2,286.8 444.3,301.5 446.4,274.2 448.5,257.4 450.6,236.4 453.1,220.6 454.8,234.3 456.9,228.0 458.6,223.8 461.1,214.3 463.2,238.5 465.3,242.7 467.4,215.4 469.5,230.1 471.2,223.8 472.6,265.8 474.1,203.8 475.8,238.5 477.5,223.8 479.6,244.8 481.0,223.8" stroke="#ff0000" stroke-opacity="0.2" stroke-width="2.4"/><polyline points="269.8,280.5 271.9,267.9 274.0,291.0 276.1,292.0 277.5,297.3 279.6,272.1 281.1,270.0 282.4,246.9 283.8,295.2 285.9,255.3 288.7,230.1 290.1,236.4 292.2,242.7 293.7,225.9 295.8,224.8 297.5,203.8 299.2,224.8 301.3,225.9 303.4,234.3 305.5,221.7 307.6,223.8 309.7,240.6 311.8,241.6 313.9,233.2 316.0,249.0 318.5,203.8 320.6,228.0 322.3,246.9 324.4,223.8 326.9,224.8 329.0,232.2 330.7,231.1 332.1,222.7 333.6,234.3 335.7,228.0 338.4,226.9 339.9,237.4 342.0,199.6 344.1,234.3 345.4,218.5 346.8,238.5 348.3,220.6 350.0,234.3 351.7,249.0 353.8,220.6 355.9,219.6 357.3,236.4 358.8,203.8 360.9,234.3 363.0,241.6 365.1,253.2 367.2,272.1 368.9,291.0 371.0,291.0 373.1,288.9 375.2,307.8 378.1,288.9 379.6,255.3 381.3,255.3 383.4,222.7 385.5,229.0 388.0,231.1 390.1,249.0 391.8,257.4 393.5,249.0 395.6,270.0 397.7,293.1 399.8,265.8 401.2,274.2 403.3,291.0 406.5,300.4 408.6,288.9 410.7,282.6 412.8,281.5 414.9,259.5 417.0,265.8 419.1,274.2 421.2,236.4 422.9,230.1 425.0,225.9 427.1,240.6 429.2,251.1 431.3,261.6 433.4,260.5 435.9,278.4 438.0,304.6 440.1,270.0 442.2,286.8 444.3,301.5 446.4,274.2 448.5,257.4 450.6,236.4 453.1,220.6 454.8,234.3 456.9,228.0 458.6,223.8 461.1,214.3 463.2,238.5 465.3,242.7 467.4,215.4 469.5,230.1 471.2,223.8 472.6,265.8 474.1,203.8 475.8,238.5 477.5,223.8 479.6,244.8 481.0,223.8" stroke="#ff0000"/></g>
<line x1="269" y1="188" x2="269" y2="325.6" stroke="#7a7a7a" stroke-width="1.5"/>
<line x1="481" y1="188" x2="481" y2="325.6" stroke="#7a7a7a" stroke-width="1.5"/>
<line x1="268.3" y1="188" x2="481.7" y2="188" stroke="#454545" stroke-width="2.2"/>
<line x1="268.3" y1="325.6" x2="481.7" y2="325.6" stroke="#4a4a4a" stroke-width="2.2"/>
<text transform="translate(351.70,181.40) scale(1.035,1)" style="stroke-width:0.7px;stroke-opacity:0.2">BPSK</text>
<text transform="translate(351.70,181.40) scale(1.035,1)">BPSK</text>
<g clip-path="url(#c5)" fill="none" stroke-opacity="0.72" stroke-width="1.0" stroke-linejoin="round"><polyline points="526.8,277.3 528.9,271.0 531.0,278.3 533.1,276.2 535.6,254.2 537.7,281.5 539.8,281.5 541.9,275.2 544.0,277.3 545.7,267.8 548.6,290.9 550.3,275.2 552.0,261.5 554.1,292.0 556.2,290.9 558.3,285.7 560.4,318.2 562.5,277.3 564.6,275.2 567.1,273.1 568.8,265.7 570.9,302.5 573.0,273.1 575.1,268.9 577.2,279.4 579.3,283.6 581.4,264.7 583.9,285.7 586.0,271.0 588.1,254.2 590.2,247.9 591.9,252.1 594.0,258.4 596.1,269.9 598.2,237.4 600.3,252.1 602.4,239.5 604.9,263.6 607.0,260.5 609.1,237.4 611.2,237.4 613.3,224.8 615.0,214.3 617.1,222.7 619.2,221.6 621.3,231.1 623.4,226.9 625.5,243.7 627.6,250.0 630.1,222.7 632.2,229.0 634.3,256.3 636.6,239.5 638.3,226.9 640.0,233.2 641.4,263.6 643.5,254.2 645.6,250.0 647.1,242.6 648.8,245.8 650.5,234.2 652.6,256.3 654.7,247.9 656.1,259.4 658.2,250.0 660.3,233.2 662.4,230.0 664.5,239.5 667.3,223.7 669.4,250.0 671.5,256.3 674.0,218.5 676.1,250.0 677.8,273.1 679.9,239.5 682.0,243.7 683.4,258.4 684.9,238.4 686.6,241.6 688.3,258.4 690.4,226.9 692.9,239.5 694.6,245.8 696.0,262.6 698.1,245.8 700.2,242.6 701.7,247.9 703.4,258.4 705.1,227.9 707.2,237.4 709.3,246.8 711.4,247.9 712.8,231.1 714.9,238.4 716.4,220.6 718.5,231.1 720.2,266.8 722.3,237.4 724.4,243.7 726.5,254.2 728.6,241.6 730.7,256.3 732.4,271.0 734.5,258.4 736.6,259.4 738.7,271.0 740.8,279.4 742.9,266.8 744.3,268.9" stroke="#0000ff" stroke-opacity="0.2" stroke-width="2.4"/><polyline points="526.8,277.3 528.9,271.0 531.0,278.3 533.1,276.2 535.6,254.2 537.7,281.5 539.8,281.5 541.9,275.2 544.0,277.3 545.7,267.8 548.6,290.9 550.3,275.2 552.0,261.5 554.1,292.0 556.2,290.9 558.3,285.7 560.4,318.2 562.5,277.3 564.6,275.2 567.1,273.1 568.8,265.7 570.9,302.5 573.0,273.1 575.1,268.9 577.2,279.4 579.3,283.6 581.4,264.7 583.9,285.7 586.0,271.0 588.1,254.2 590.2,247.9 591.9,252.1 594.0,258.4 596.1,269.9 598.2,237.4 600.3,252.1 602.4,239.5 604.9,263.6 607.0,260.5 609.1,237.4 611.2,237.4 613.3,224.8 615.0,214.3 617.1,222.7 619.2,221.6 621.3,231.1 623.4,226.9 625.5,243.7 627.6,250.0 630.1,222.7 632.2,229.0 634.3,256.3 636.6,239.5 638.3,226.9 640.0,233.2 641.4,263.6 643.5,254.2 645.6,250.0 647.1,242.6 648.8,245.8 650.5,234.2 652.6,256.3 654.7,247.9 656.1,259.4 658.2,250.0 660.3,233.2 662.4,230.0 664.5,239.5 667.3,223.7 669.4,250.0 671.5,256.3 674.0,218.5 676.1,250.0 677.8,273.1 679.9,239.5 682.0,243.7 683.4,258.4 684.9,238.4 686.6,241.6 688.3,258.4 690.4,226.9 692.9,239.5 694.6,245.8 696.0,262.6 698.1,245.8 700.2,242.6 701.7,247.9 703.4,258.4 705.1,227.9 707.2,237.4 709.3,246.8 711.4,247.9 712.8,231.1 714.9,238.4 716.4,220.6 718.5,231.1 720.2,266.8 722.3,237.4 724.4,243.7 726.5,254.2 728.6,241.6 730.7,256.3 732.4,271.0 734.5,258.4 736.6,259.4 738.7,271.0 740.8,279.4 742.9,266.8 744.3,268.9" stroke="#0000ff"/><polyline points="526.8,252.1 528.9,243.7 531.0,235.3 533.1,243.7 534.5,203.8 536.6,243.7 538.1,212.2 540.8,222.7 542.9,243.7 545.0,199.6 547.1,237.4 549.2,235.3 551.3,226.9 552.8,232.1 554.5,239.5 556.6,247.9 558.3,262.6 560.4,227.9 562.5,273.1 564.6,260.5 566.7,268.9 568.8,252.1 570.9,246.8 573.0,245.8 575.1,238.4 577.2,239.5 579.3,254.2 581.4,237.4 583.9,254.2 585.6,247.9 587.0,222.7 589.1,239.5 591.9,231.1 594.4,216.4 596.5,224.8 598.2,231.1 600.3,235.3 602.4,241.6 604.5,235.3 606.6,256.3 608.7,237.4 610.8,237.4 612.9,237.4 615.0,243.7 616.4,229.0 618.5,258.4 620.0,260.5 621.7,245.8 623.8,259.4 625.9,258.4 627.6,245.8 630.1,284.6 631.8,258.4 633.9,268.9 636.6,285.7 638.7,281.5 640.8,281.5 643.5,277.3 645.0,268.9 646.7,252.1 648.8,262.6 650.9,279.4 652.6,281.5 654.0,258.4 656.1,267.8 657.6,266.8 659.3,275.2 661.4,275.2 663.1,281.5 665.2,279.4 667.3,268.9 669.4,260.5 671.5,289.9 673.6,279.4 675.7,283.6 677.8,303.5 679.9,275.2 682.0,266.8 684.1,271.0 686.2,289.9 688.3,277.3 690.4,258.4 692.9,279.4 695.0,275.2 697.1,279.4 699.6,292.0 701.3,279.4 703.4,271.0 705.5,259.4 708.0,292.0 710.1,262.6 711.8,266.8 713.9,279.4 716.0,277.3 718.1,287.8 720.2,283.6 722.3,279.4 724.4,266.8 726.1,296.2 728.2,266.8 730.3,279.4 732.4,262.6 734.5,275.2 736.6,266.8 738.7,285.7 740.8,271.0 742.9,262.6 744.3,271.0" stroke="#ff0000" stroke-opacity="0.2" stroke-width="2.4"/><polyline points="526.8,252.1 528.9,243.7 531.0,235.3 533.1,243.7 534.5,203.8 536.6,243.7 538.1,212.2 540.8,222.7 542.9,243.7 545.0,199.6 547.1,237.4 549.2,235.3 551.3,226.9 552.8,232.1 554.5,239.5 556.6,247.9 558.3,262.6 560.4,227.9 562.5,273.1 564.6,260.5 566.7,268.9 568.8,252.1 570.9,246.8 573.0,245.8 575.1,238.4 577.2,239.5 579.3,254.2 581.4,237.4 583.9,254.2 585.6,247.9 587.0,222.7 589.1,239.5 591.9,231.1 594.4,216.4 596.5,224.8 598.2,231.1 600.3,235.3 602.4,241.6 604.5,235.3 606.6,256.3 608.7,237.4 610.8,237.4 612.9,237.4 615.0,243.7 616.4,229.0 618.5,258.4 620.0,260.5 621.7,245.8 623.8,259.4 625.9,258.4 627.6,245.8 630.1,284.6 631.8,258.4 633.9,268.9 636.6,285.7 638.7,281.5 640.8,281.5 643.5,277.3 645.0,268.9 646.7,252.1 648.8,262.6 650.9,279.4 652.6,281.5 654.0,258.4 656.1,267.8 657.6,266.8 659.3,275.2 661.4,275.2 663.1,281.5 665.2,279.4 667.3,268.9 669.4,260.5 671.5,289.9 673.6,279.4 675.7,283.6 677.8,303.5 679.9,275.2 682.0,266.8 684.1,271.0 686.2,289.9 688.3,277.3 690.4,258.4 692.9,279.4 695.0,275.2 697.1,279.4 699.6,292.0 701.3,279.4 703.4,271.0 705.5,259.4 708.0,292.0 710.1,262.6 711.8,266.8 713.9,279.4 716.0,277.3 718.1,287.8 720.2,283.6 722.3,279.4 724.4,266.8 726.1,296.2 728.2,266.8 730.3,279.4 732.4,262.6 734.5,275.2 736.6,266.8 738.7,285.7 740.8,271.0 742.9,262.6 744.3,271.0" stroke="#ff0000"/></g>
<line x1="526.5" y1="189" x2="526.5" y2="326.4" stroke="#7a7a7a" stroke-width="1.5"/>
<line x1="744.0" y1="189" x2="744.0" y2="326.4" stroke="#7a7a7a" stroke-width="1.5"/>
<line x1="525.8" y1="189" x2="744.7" y2="189" stroke="#454545" stroke-width="2.2"/>
<line x1="525.8" y1="326.4" x2="744.7" y2="326.4" stroke="#4a4a4a" stroke-width="2.2"/>
<text transform="translate(612.30,181.70) scale(1.035,1)" style="stroke-width:0.7px;stroke-opacity:0.2">GFSK</text>
<text transform="translate(612.30,181.70) scale(1.035,1)">GFSK</text>
<g clip-path="url(#c6)" fill="none" stroke-opacity="0.72" stroke-width="1.0" stroke-linejoin="round"><polyline points="6.2,410.4 8.4,428.6 10.5,419.0 12.0,424.3 13.7,452.2 15.4,445.8 16.9,428.6 18.4,435.0 20.2,422.2 22.3,454.3 24.4,452.2 26.6,455.4 29.2,475.8 30.9,450.0 32.6,436.1 34.7,441.5 36.2,445.8 37.7,458.6 39.9,441.5 42.7,399.7 44.8,441.5 46.3,425.4 48.0,437.2 49.7,434.0 51.2,450.0 53.4,465.1 54.9,435.0 56.6,447.9 58.3,454.3 59.8,483.3 61.3,450.0 63.0,442.5 65.2,441.5 66.9,412.5 69.0,450.0 71.2,415.7 72.7,399.7 74.8,405.0 75.9,401.8 77.6,412.5 79.8,413.6 80.6,419.0 82.3,382.5 84.5,416.8 86.2,413.6 87.7,400.7 89.8,411.5 91.3,430.7 93.0,452.2 94.8,428.6 96.3,426.5 97.8,409.3 99.5,424.3 101.2,402.9 102.7,388.9 104.8,398.6 107.0,398.6 108.5,402.9 110.2,396.4 112.3,407.2 114.5,409.3 115.9,426.5 118.0,411.5 120.1,408.2 122.3,411.5 124.4,422.2 126.6,437.2 128.7,428.6 130.9,441.5 133.0,452.2 135.2,460.8 137.3,475.8 139.4,443.6 141.6,443.6 143.7,435.0 145.9,450.0 148.0,441.5 150.2,452.2 152.3,409.3 153.8,450.0 156.0,428.6 158.1,450.0 159.6,465.1 161.3,484.3 163.5,458.6 165.6,441.5 167.7,439.3 169.9,447.9 172.0,441.5 174.2,432.9 175.9,435.0 178.0,417.9 180.2,437.2 182.3,424.3 184.5,417.9 186.6,399.7 188.8,439.3 190.9,411.5 193.5,396.4 195.6,420.0 197.3,411.5 198.8,384.7 200.3,430.7 202.5,426.5 204.6,422.2 206.8,441.5 208.9,454.3 211.0,452.2 213.2,454.3 215.3,460.8 217.5,470.4 219.2,450.0 220.9,439.3 223.1,465.1 223.9,452.2" stroke="#0000ff" stroke-opacity="0.2" stroke-width="2.4"/><polyline points="6.2,410.4 8.4,428.6 10.5,419.0 12.0,424.3 13.7,452.2 15.4,445.8 16.9,428.6 18.4,435.0 20.2,422.2 22.3,454.3 24.4,452.2 26.6,455.4 29.2,475.8 30.9,450.0 32.6,436.1 34.7,441.5 36.2,445.8 37.7,458.6 39.9,441.5 42.7,399.7 44.8,441.5 46.3,425.4 48.0,437.2 49.7,434.0 51.2,450.0 53.4,465.1 54.9,435.0 56.6,447.9 58.3,454.3 59.8,483.3 61.3,450.0 63.0,442.5 65.2,441.5 66.9,412.5 69.0,450.0 71.2,415.7 72.7,399.7 74.8,405.0 75.9,401.8 77.6,412.5 79.8,413.6 80.6,419.0 82.3,382.5 84.5,416.8 86.2,413.6 87.7,400.7 89.8,411.5 91.3,430.7 93.0,452.2 94.8,428.6 96.3,426.5 97.8,409.3 99.5,424.3 101.2,402.9 102.7,388.9 104.8,398.6 107.0,398.6 108.5,402.9 110.2,396.4 112.3,407.2 114.5,409.3 115.9,426.5 118.0,411.5 120.1,408.2 122.3,411.5 124.4,422.2 126.6,437.2 128.7,428.6 130.9,441.5 133.0,452.2 135.2,460.8 137.3,475.8 139.4,443.6 141.6,443.6 143.7,435.0 145.9,450.0 148.0,441.5 150.2,452.2 152.3,409.3 153.8,450.0 156.0,428.6 158.1,450.0 159.6,465.1 161.3,484.3 163.5,458.6 165.6,441.5 167.7,439.3 169.9,447.9 172.0,441.5 174.2,432.9 175.9,435.0 178.0,417.9 180.2,437.2 182.3,424.3 184.5,417.9 186.6,399.7 188.8,439.3 190.9,411.5 193.5,396.4 195.6,420.0 197.3,411.5 198.8,384.7 200.3,430.7 202.5,426.5 204.6,422.2 206.8,441.5 208.9,454.3 211.0,452.2 213.2,454.3 215.3,460.8 217.5,470.4 219.2,450.0 220.9,439.3 223.1,465.1 223.9,452.2" stroke="#0000ff"/><polyline points="6.2,446.8 8.4,452.2 10.5,453.3 12.0,450.0 13.7,476.8 15.4,437.2 16.9,424.3 18.4,432.9 20.2,460.8 22.3,476.8 24.4,434.0 26.6,439.3 28.7,439.3 30.4,447.9 32.6,445.8 34.7,447.9 36.9,450.0 39.4,467.2 41.2,439.3 42.7,441.5 44.8,465.1 47.0,439.3 49.1,447.9 51.2,442.5 53.4,432.9 55.5,445.8 57.0,428.6 59.2,428.6 60.9,445.8 63.0,460.8 65.2,471.5 67.3,473.6 69.0,475.8 70.5,454.3 72.0,441.5 74.2,441.5 76.3,442.5 78.0,435.0 80.2,437.2 82.3,435.0 84.0,426.5 86.2,420.0 87.7,435.0 89.8,454.3 92.6,473.6 94.8,454.3 96.9,424.3 98.4,409.3 100.5,443.6 102.7,432.9 104.8,428.6 107.0,456.5 109.1,409.3 111.3,426.5 112.3,428.6 114.5,454.3 115.2,454.3 116.7,445.8 118.4,428.6 120.1,462.9 122.3,467.2 123.8,488.6 125.3,450.0 127.4,450.0 128.7,452.2 130.2,476.8 132.4,437.2 134.5,454.3 136.7,430.7 138.8,430.7 140.9,435.0 143.1,465.1 145.2,441.5 147.4,460.8 148.9,445.8 150.6,465.1 152.3,441.5 154.4,450.0 156.0,469.3 158.1,437.2 160.2,441.5 162.4,460.8 163.9,450.0 166.0,420.0 168.2,435.0 169.9,420.0 172.5,423.2 174.2,409.3 175.9,397.5 178.0,402.9 180.2,400.7 182.3,411.5 184.5,405.0 186.6,415.7 188.8,439.3 190.9,424.3 193.0,413.6 195.2,411.5 197.3,400.7 199.9,398.6 202.0,398.6 204.2,398.6 206.3,411.5 208.5,402.9 210.6,407.2 212.8,413.6 214.9,421.1 217.1,417.9 219.2,437.2 221.3,424.3 223.5,430.7" stroke="#ff0000" stroke-opacity="0.2" stroke-width="2.4"/><polyline points="6.2,446.8 8.4,452.2 10.5,453.3 12.0,450.0 13.7,476.8 15.4,437.2 16.9,424.3 18.4,432.9 20.2,460.8 22.3,476.8 24.4,434.0 26.6,439.3 28.7,439.3 30.4,447.9 32.6,445.8 34.7,447.9 36.9,450.0 39.4,467.2 41.2,439.3 42.7,441.5 44.8,465.1 47.0,439.3 49.1,447.9 51.2,442.5 53.4,432.9 55.5,445.8 57.0,428.6 59.2,428.6 60.9,445.8 63.0,460.8 65.2,471.5 67.3,473.6 69.0,475.8 70.5,454.3 72.0,441.5 74.2,441.5 76.3,442.5 78.0,435.0 80.2,437.2 82.3,435.0 84.0,426.5 86.2,420.0 87.7,435.0 89.8,454.3 92.6,473.6 94.8,454.3 96.9,424.3 98.4,409.3 100.5,443.6 102.7,432.9 104.8,428.6 107.0,456.5 109.1,409.3 111.3,426.5 112.3,428.6 114.5,454.3 115.2,454.3 116.7,445.8 118.4,428.6 120.1,462.9 122.3,467.2 123.8,488.6 125.3,450.0 127.4,450.0 128.7,452.2 130.2,476.8 132.4,437.2 134.5,454.3 136.7,430.7 138.8,430.7 140.9,435.0 143.1,465.1 145.2,441.5 147.4,460.8 148.9,445.8 150.6,465.1 152.3,441.5 154.4,450.0 156.0,469.3 158.1,437.2 160.2,441.5 162.4,460.8 163.9,450.0 166.0,420.0 168.2,435.0 169.9,420.0 172.5,423.2 174.2,409.3 175.9,397.5 178.0,402.9 180.2,400.7 182.3,411.5 184.5,405.0 186.6,415.7 188.8,439.3 190.9,424.3 193.0,413.6 195.2,411.5 197.3,400.7 199.9,398.6 202.0,398.6 204.2,398.6 206.3,411.5 208.5,402.9 210.6,407.2 212.8,413.6 214.9,421.1 217.1,417.9 219.2,437.2 221.3,424.3 223.5,430.7" stroke="#ff0000"/></g>
<line x1="5.3" y1="362" x2="5.3" y2="503.5" stroke="#7a7a7a" stroke-width="1.5"/>
<line x1="224.2" y1="362" x2="224.2" y2="503.5" stroke="#7a7a7a" stroke-width="1.5"/>
<line x1="4.6" y1="362" x2="224.89999999999998" y2="362" stroke="#454545" stroke-width="2.2"/>
<line x1="4.6" y1="503.5" x2="224.89999999999998" y2="503.5" stroke="#4a4a4a" stroke-width="2.2"/>
<text transform="translate(86.20,355.40) scale(1.035,1)" style="stroke-width:0.7px;stroke-opacity:0.2">CPFSK</text>
<text transform="translate(86.20,355.40) scale(1.035,1)">CPFSK</text>
<g clip-path="url(#c7)" fill="none" stroke-opacity="0.72" stroke-width="1.0" stroke-linejoin="round"><polyline points="271.3,414.3 273.4,413.2 275.6,451.3 277.1,442.6 278.9,431.7 281.0,420.9 283.6,392.6 285.8,433.9 287.6,407.8 289.7,436.1 291.9,496.9 294.1,440.4 296.3,420.9 298.0,405.6 299.5,405.6 301.0,462.1 302.8,449.1 304.9,460.0 307.1,442.6 308.9,446.9 310.4,420.9 312.6,488.2 314.1,446.9 315.8,401.3 317.6,479.5 319.7,436.1 321.9,462.1 323.4,462.1 325.6,373.0 327.8,425.2 329.9,412.2 332.1,414.3 334.3,403.5 335.8,442.6 337.5,429.5 339.7,414.3 341.9,436.1 344.1,455.6 345.8,468.7 348.0,396.9 350.6,386.1 352.8,446.9 354.5,477.4 356.0,416.5 357.5,418.7 359.3,442.6 361.0,431.7 363.2,433.9 365.4,442.6 367.5,451.3 369.7,460.0 372.3,457.8 374.1,474.1 375.6,431.7 377.8,418.7 379.9,433.9 382.1,462.1 384.3,399.1 385.8,453.5 387.3,440.4 389.5,401.3 391.6,425.2 393.4,410.0 395.6,433.9 397.7,425.2 399.5,442.6 401.6,425.2 404.3,362.2 406.0,418.7 408.2,423.0 410.3,414.3 412.9,449.1 414.7,391.5 416.2,396.9 417.7,383.9 419.5,425.2 421.2,436.1 422.7,401.3 424.9,460.0 427.1,462.1 429.2,418.7 430.8,425.2 432.5,431.7 434.2,436.1 436.4,414.3 437.9,388.3 440.1,440.4 442.3,416.5 444.5,462.1 446.6,399.1 448.8,423.0 451.0,455.6 453.2,418.7 454.7,410.0 456.4,401.3 458.1,449.1 460.8,405.6 462.5,425.2 464.7,436.1 466.8,420.9 468.4,493.7 469.9,436.1 471.6,418.7 473.8,449.1 476.0,453.5 478.1,471.9 479.9,449.1 482.1,455.6 483.6,451.3 484.7,396.9" stroke="#0000ff" stroke-opacity="0.2" stroke-width="2.4"/><polyline points="271.3,414.3 273.4,413.2 275.6,451.3 277.1,442.6 278.9,431.7 281.0,420.9 283.6,392.6 285.8,433.9 287.6,407.8 289.7,436.1 291.9,496.9 294.1,440.4 296.3,420.9 298.0,405.6 299.5,405.6 301.0,462.1 302.8,449.1 304.9,460.0 307.1,442.6 308.9,446.9 310.4,420.9 312.6,488.2 314.1,446.9 315.8,401.3 317.6,479.5 319.7,436.1 321.9,462.1 323.4,462.1 325.6,373.0 327.8,425.2 329.9,412.2 332.1,414.3 334.3,403.5 335.8,442.6 337.5,429.5 339.7,414.3 341.9,436.1 344.1,455.6 345.8,468.7 348.0,396.9 350.6,386.1 352.8,446.9 354.5,477.4 356.0,416.5 357.5,418.7 359.3,442.6 361.0,431.7 363.2,433.9 365.4,442.6 367.5,451.3 369.7,460.0 372.3,457.8 374.1,474.1 375.6,431.7 377.8,418.7 379.9,433.9 382.1,462.1 384.3,399.1 385.8,453.5 387.3,440.4 389.5,401.3 391.6,425.2 393.4,410.0 395.6,433.9 397.7,425.2 399.5,442.6 401.6,425.2 404.3,362.2 406.0,418.7 408.2,423.0 410.3,414.3 412.9,449.1 414.7,391.5 416.2,396.9 417.7,383.9 419.5,425.2 421.2,436.1 422.7,401.3 424.9,460.0 427.1,462.1 429.2,418.7 430.8,425.2 432.5,431.7 434.2,436.1 436.4,414.3 437.9,388.3 440.1,440.4 442.3,416.5 444.5,462.1 446.6,399.1 448.8,423.0 451.0,455.6 453.2,418.7 454.7,410.0 456.4,401.3 458.1,449.1 460.8,405.6 462.5,425.2 464.7,436.1 466.8,420.9 468.4,493.7 469.9,436.1 471.6,418.7 473.8,449.1 476.0,453.5 478.1,471.9 479.9,449.1 482.1,455.6 483.6,451.3 484.7,396.9" stroke="#0000ff"/><polyline points="271.3,403.5 273.4,412.2 275.6,464.3 277.8,423.0 279.3,423.0 280.6,446.9 282.1,446.9 283.6,425.2 285.4,455.6 287.6,455.6 289.7,425.2 291.5,414.3 293.6,436.1 295.8,449.1 298.4,438.2 300.2,451.3 302.3,414.3 303.9,436.1 306.0,394.8 308.2,425.2 310.4,399.1 312.6,436.1 313.6,455.6 315.4,470.8 317.6,427.4 319.7,414.3 321.9,425.2 324.1,436.1 326.2,418.7 327.8,410.0 329.3,442.6 331.0,476.3 333.2,457.8 335.4,431.7 337.5,423.0 339.7,436.1 341.9,460.0 344.1,425.2 345.8,404.6 348.0,429.5 349.5,457.8 351.7,436.1 353.8,412.2 356.0,425.2 358.2,436.1 360.4,451.3 362.5,410.0 364.7,451.3 366.2,453.5 368.4,455.6 369.7,400.2 371.2,499.1 372.8,442.6 374.9,460.0 376.7,438.2 378.8,433.9 380.3,438.2 383.0,505.6 385.1,451.3 386.4,479.5 388.0,436.1 390.1,446.9 391.6,405.6 393.8,416.5 396.0,453.5 397.7,386.1 399.9,414.3 402.1,425.2 403.2,444.8 405.3,418.7 406.4,399.1 408.2,418.7 409.7,416.5 411.9,403.5 413.4,429.5 415.6,451.3 417.7,414.3 419.5,436.1 421.6,420.9 423.4,425.2 425.6,446.9 427.7,414.3 429.9,474.1 431.4,414.3 432.9,366.5 435.1,403.5 436.9,433.9 439.0,438.2 441.2,467.6 443.4,431.7 445.5,440.4 447.7,436.1 449.9,455.6 452.1,414.3 454.2,442.6 456.4,423.0 458.1,436.1 460.3,416.5 462.5,433.9 464.7,433.9 466.8,418.7 469.0,446.9 471.2,431.7 473.4,453.5 475.5,457.8 477.7,464.3 479.9,416.5 481.4,464.3 483.6,407.8 484.7,431.7" stroke="#ff0000" stroke-opacity="0.2" stroke-width="2.4"/><polyline points="271.3,403.5 273.4,412.2 275.6,464.3 277.8,423.0 279.3,423.0 280.6,446.9 282.1,446.9 283.6,425.2 285.4,455.6 287.6,455.6 289.7,425.2 291.5,414.3 293.6,436.1 295.8,449.1 298.4,438.2 300.2,451.3 302.3,414.3 303.9,436.1 306.0,394.8 308.2,425.2 310.4,399.1 312.6,436.1 313.6,455.6 315.4,470.8 317.6,427.4 319.7,414.3 321.9,425.2 324.1,436.1 326.2,418.7 327.8,410.0 329.3,442.6 331.0,476.3 333.2,457.8 335.4,431.7 337.5,423.0 339.7,436.1 341.9,460.0 344.1,425.2 345.8,404.6 348.0,429.5 349.5,457.8 351.7,436.1 353.8,412.2 356.0,425.2 358.2,436.1 360.4,451.3 362.5,410.0 364.7,451.3 366.2,453.5 368.4,455.6 369.7,400.2 371.2,499.1 372.8,442.6 374.9,460.0 376.7,438.2 378.8,433.9 380.3,438.2 383.0,505.6 385.1,451.3 386.4,479.5 388.0,436.1 390.1,446.9 391.6,405.6 393.8,416.5 396.0,453.5 397.7,386.1 399.9,414.3 402.1,425.2 403.2,444.8 405.3,418.7 406.4,399.1 408.2,418.7 409.7,416.5 411.9,403.5 413.4,429.5 415.6,451.3 417.7,414.3 419.5,436.1 421.6,420.9 423.4,425.2 425.6,446.9 427.7,414.3 429.9,474.1 431.4,414.3 432.9,366.5 435.1,403.5 436.9,433.9 439.0,438.2 441.2,467.6 443.4,431.7 445.5,440.4 447.7,436.1 449.9,455.6 452.1,414.3 454.2,442.6 456.4,423.0 458.1,436.1 460.3,416.5 462.5,433.9 464.7,433.9 466.8,418.7 469.0,446.9 471.2,431.7 473.4,453.5 475.5,457.8 477.7,464.3 479.9,416.5 481.4,464.3 483.6,407.8 484.7,431.7" stroke="#ff0000"/></g>
<line x1="270.7" y1="362" x2="270.7" y2="505.8" stroke="#7a7a7a" stroke-width="1.5"/>
<line x1="484.7" y1="362" x2="484.7" y2="505.8" stroke="#7a7a7a" stroke-width="1.5"/>
<line x1="270.0" y1="362" x2="485.4" y2="362" stroke="#454545" stroke-width="2.2"/>
<line x1="270.0" y1="505.8" x2="485.4" y2="505.8" stroke="#4a4a4a" stroke-width="2.2"/>
<text transform="translate(354.20,355.60) scale(1.035,1)" style="stroke-width:0.7px;stroke-opacity:0.2">4PAM</text>
<text transform="translate(354.20,355.60) scale(1.035,1)">4PAM</text>
<g clip-path="url(#c8)" fill="none" stroke-opacity="0.72" stroke-width="1.0" stroke-linejoin="round"><polyline points="527.3,436.0 529.5,450.3 531.7,450.3 533.3,483.3 535.0,456.9 536.8,443.7 538.3,472.3 539.9,443.7 541.6,470.1 543.4,439.3 544.9,448.1 546.5,443.7 548.2,450.3 550.0,452.5 551.5,481.1 553.7,443.7 555.9,456.9 557.5,450.3 559.2,452.5 561.0,450.3 562.5,470.1 564.1,426.1 565.9,401.9 568.1,428.3 570.3,412.9 572.0,426.1 574.2,399.6 575.8,432.7 577.3,439.3 579.1,421.7 581.7,439.3 583.9,448.1 586.1,477.8 587.9,443.7 589.6,456.9 591.2,450.3 592.7,456.9 594.5,459.1 596.7,443.7 598.9,448.1 601.1,456.9 603.3,412.9 605.9,410.7 607.3,417.3 609.9,389.7 611.7,426.1 613.9,412.9 616.1,421.7 618.3,430.5 620.5,448.1 622.0,463.5 624.2,448.1 627.1,471.2 629.3,452.5 631.5,456.9 633.7,441.5 635.3,430.5 637.5,432.7 639.7,415.1 641.9,398.5 643.5,417.3 645.7,415.1 647.9,430.5 649.6,448.1 651.4,463.5 653.6,452.5 655.8,443.7 657.3,423.9 659.5,459.1 661.1,419.5 662.8,419.5 665.0,412.9 666.8,432.7 668.3,434.9 670.5,390.8 672.7,393.0 675.0,398.5 677.2,409.6 678.7,401.9 680.5,415.1 682.2,432.7 684.4,417.3 686.6,439.3 688.8,434.9 691.0,452.5 693.2,441.5 695.4,459.1 697.6,467.9 699.8,452.5 702.0,476.7 705.1,423.9 707.3,461.3 709.1,434.9 710.9,463.5 712.4,426.1 713.9,412.9 715.7,426.1 718.3,426.1 720.1,408.5 722.3,404.1 724.1,419.5 725.6,412.9 727.2,426.1 728.9,437.1 731.1,459.1 732.9,480.0 735.1,472.3 737.3,452.5 739.5,459.1 741.7,432.7 743.9,430.5" stroke="#0000ff" stroke-opacity="0.2" stroke-width="2.4"/><polyline points="527.3,436.0 529.5,450.3 531.7,450.3 533.3,483.3 535.0,456.9 536.8,443.7 538.3,472.3 539.9,443.7 541.6,470.1 543.4,439.3 544.9,448.1 546.5,443.7 548.2,450.3 550.0,452.5 551.5,481.1 553.7,443.7 555.9,456.9 557.5,450.3 559.2,452.5 561.0,450.3 562.5,470.1 564.1,426.1 565.9,401.9 568.1,428.3 570.3,412.9 572.0,426.1 574.2,399.6 575.8,432.7 577.3,439.3 579.1,421.7 581.7,439.3 583.9,448.1 586.1,477.8 587.9,443.7 589.6,456.9 591.2,450.3 592.7,456.9 594.5,459.1 596.7,443.7 598.9,448.1 601.1,456.9 603.3,412.9 605.9,410.7 607.3,417.3 609.9,389.7 611.7,426.1 613.9,412.9 616.1,421.7 618.3,430.5 620.5,448.1 622.0,463.5 624.2,448.1 627.1,471.2 629.3,452.5 631.5,456.9 633.7,441.5 635.3,430.5 637.5,432.7 639.7,415.1 641.9,398.5 643.5,417.3 645.7,415.1 647.9,430.5 649.6,448.1 651.4,463.5 653.6,452.5 655.8,443.7 657.3,423.9 659.5,459.1 661.1,419.5 662.8,419.5 665.0,412.9 666.8,432.7 668.3,434.9 670.5,390.8 672.7,393.0 675.0,398.5 677.2,409.6 678.7,401.9 680.5,415.1 682.2,432.7 684.4,417.3 686.6,439.3 688.8,434.9 691.0,452.5 693.2,441.5 695.4,459.1 697.6,467.9 699.8,452.5 702.0,476.7 705.1,423.9 707.3,461.3 709.1,434.9 710.9,463.5 712.4,426.1 713.9,412.9 715.7,426.1 718.3,426.1 720.1,408.5 722.3,404.1 724.1,419.5 725.6,412.9 727.2,426.1 728.9,437.1 731.1,459.1 732.9,480.0 735.1,472.3 737.3,452.5 739.5,459.1 741.7,432.7 743.9,430.5" stroke="#0000ff"/><polyline points="527.3,421.7 529.5,418.4 531.7,408.5 533.3,417.3 535.0,439.3 536.8,406.3 538.3,432.7 539.9,398.5 541.6,432.7 543.4,400.7 544.9,432.7 546.5,404.1 548.2,400.7 550.0,430.5 551.5,432.7 553.7,393.0 555.9,415.1 557.0,443.7 558.8,404.1 560.3,432.7 561.9,430.5 563.2,432.7 564.7,454.7 567.0,476.7 568.5,456.9 570.3,459.1 572.0,454.7 574.2,461.3 575.8,439.3 578.0,443.7 579.5,432.7 581.7,419.5 583.9,417.3 585.7,394.1 587.9,418.4 589.6,412.9 591.8,419.5 594.0,430.5 595.6,448.1 597.8,475.6 600.0,456.9 602.2,454.7 603.7,443.7 605.5,430.5 607.3,439.3 609.9,408.5 611.7,423.9 613.9,415.1 616.1,412.9 618.7,375.4 620.9,419.5 623.1,415.1 625.3,415.1 627.5,416.2 629.7,417.3 631.9,434.9 634.1,441.5 636.4,443.7 638.6,448.1 640.8,461.3 642.6,452.5 644.1,461.3 645.7,452.5 647.9,463.5 649.2,459.1 650.7,476.7 652.3,445.9 654.0,428.3 655.8,452.5 657.3,448.1 659.5,437.1 661.1,430.5 663.3,417.3 665.0,410.7 666.8,426.1 669.0,401.9 671.2,417.3 672.7,412.9 674.3,406.3 676.5,386.4 678.3,417.3 680.0,464.6 681.6,395.2 683.8,406.3 686.0,430.5 688.2,432.7 690.4,428.3 692.6,445.9 694.8,456.9 697.0,452.5 699.2,465.7 701.4,470.1 702.9,476.7 704.7,483.3 706.9,463.5 709.1,470.1 710.9,461.3 713.1,448.1 715.3,434.9 717.5,443.7 719.7,426.1 722.3,394.1 724.5,408.5 726.7,401.9 728.5,417.3 730.7,410.7 732.9,417.3 735.1,417.3 737.3,386.4 739.5,417.3 741.0,412.9 743.2,430.5 744.3,426.1" stroke="#ff0000" stroke-opacity="0.2" stroke-width="2.4"/><polyline points="527.3,421.7 529.5,418.4 531.7,408.5 533.3,417.3 535.0,439.3 536.8,406.3 538.3,432.7 539.9,398.5 541.6,432.7 543.4,400.7 544.9,432.7 546.5,404.1 548.2,400.7 550.0,430.5 551.5,432.7 553.7,393.0 555.9,415.1 557.0,443.7 558.8,404.1 560.3,432.7 561.9,430.5 563.2,432.7 564.7,454.7 567.0,476.7 568.5,456.9 570.3,459.1 572.0,454.7 574.2,461.3 575.8,439.3 578.0,443.7 579.5,432.7 581.7,419.5 583.9,417.3 585.7,394.1 587.9,418.4 589.6,412.9 591.8,419.5 594.0,430.5 595.6,448.1 597.8,475.6 600.0,456.9 602.2,454.7 603.7,443.7 605.5,430.5 607.3,439.3 609.9,408.5 611.7,423.9 613.9,415.1 616.1,412.9 618.7,375.4 620.9,419.5 623.1,415.1 625.3,415.1 627.5,416.2 629.7,417.3 631.9,434.9 634.1,441.5 636.4,443.7 638.6,448.1 640.8,461.3 642.6,452.5 644.1,461.3 645.7,452.5 647.9,463.5 649.2,459.1 650.7,476.7 652.3,445.9 654.0,428.3 655.8,452.5 657.3,448.1 659.5,437.1 661.1,430.5 663.3,417.3 665.0,410.7 666.8,426.1 669.0,401.9 671.2,417.3 672.7,412.9 674.3,406.3 676.5,386.4 678.3,417.3 680.0,464.6 681.6,395.2 683.8,406.3 686.0,430.5 688.2,432.7 690.4,428.3 692.6,445.9 694.8,456.9 697.0,452.5 699.2,465.7 701.4,470.1 702.9,476.7 704.7,483.3 706.9,463.5 709.1,470.1 710.9,461.3 713.1,448.1 715.3,434.9 717.5,443.7 719.7,426.1 722.3,394.1 724.5,408.5 726.7,401.9 728.5,417.3 730.7,410.7 732.9,417.3 735.1,417.3 737.3,386.4 739.5,417.3 741.0,412.9 743.2,430.5 744.3,426.1" stroke="#ff0000"/></g>
<line x1="526.7" y1="362.2" x2="526.7" y2="507.8" stroke="#7a7a7a" stroke-width="1.5"/>
<line x1="744.9" y1="362.2" x2="744.9" y2="507.8" stroke="#7a7a7a" stroke-width="1.5"/>
<line x1="526.0" y1="362.2" x2="745.6" y2="362.2" stroke="#454545" stroke-width="2.2"/>
<line x1="526.0" y1="507.8" x2="745.6" y2="507.8" stroke="#4a4a4a" stroke-width="2.2"/>
<text transform="translate(611.30,355.40) scale(1.035,1)" style="stroke-width:0.7px;stroke-opacity:0.2">QPSK</text>
<text transform="translate(611.30,355.40) scale(1.035,1)">QPSK</text>
<g clip-path="url(#c9)" fill="none" stroke-opacity="0.72" stroke-width="1.0" stroke-linejoin="round"><polyline points="6.2,615.5 8.4,615.5 10.5,605.8 12.6,611.2 14.8,615.5 16.9,613.3 19.1,619.8 21.2,621.9 23.4,627.3 25.5,628.3 27.7,627.3 28.7,634.8 29.8,639.1 30.9,645.5 32.6,641.2 34.1,645.5 35.6,643.3 37.3,639.1 39.0,632.6 41.2,632.6 42.7,624.0 44.8,613.3 47.0,600.5 49.1,587.6 51.2,579.0 53.4,575.8 55.5,579.0 57.7,589.7 59.8,600.5 61.3,615.5 63.5,614.4 65.2,632.6 66.9,639.1 69.0,656.2 70.5,639.1 72.7,636.9 74.8,635.8 76.3,628.3 78.0,617.6 79.8,611.2 81.3,606.9 82.8,609.0 84.9,609.0 86.6,615.5 88.3,619.8 89.8,618.7 91.3,624.0 93.0,630.5 94.8,634.8 96.3,632.6 97.8,619.8 99.5,628.3 101.2,624.0 102.7,613.3 104.2,610.1 105.9,612.3 108.1,609.0 109.8,606.9 111.9,612.3 114.1,614.4 116.3,621.9 118.4,628.3 120.6,632.6 122.7,635.8 124.4,634.8 125.9,628.3 127.4,626.2 129.2,621.9 130.9,617.6 133.0,613.3 134.5,606.9 136.0,600.5 137.7,594.0 139.4,589.7 140.9,585.5 142.0,591.9 143.7,580.1 145.9,581.2 148.0,584.4 150.2,586.5 151.7,583.3 153.8,576.9 156.0,575.8 157.5,576.9 159.2,573.7 161.3,568.3 163.0,581.2 164.5,579.0 166.7,581.2 168.8,584.4 169.9,586.5 172.0,585.5 174.2,583.3 176.3,582.2 178.5,580.1 180.6,576.9 182.7,573.7 184.5,571.5 186.0,566.2 187.5,572.6 189.2,571.5 190.9,574.7 192.4,583.3 194.5,596.2 196.7,602.6 198.8,613.3 200.3,621.9 202.0,630.5 203.1,634.8 204.6,633.7 206.3,631.5 208.0,624.0 209.5,617.6 211.0,609.0 212.8,600.5 214.5,591.9 216.6,595.1 218.8,596.2 220.9,596.2 222.4,602.6 225.0,615.5" stroke="#0000ff" stroke-opacity="0.2" stroke-width="2.4"/><polyline points="6.2,615.5 8.4,615.5 10.5,605.8 12.6,611.2 14.8,615.5 16.9,613.3 19.1,619.8 21.2,621.9 23.4,627.3 25.5,628.3 27.7,627.3 28.7,634.8 29.8,639.1 30.9,645.5 32.6,641.2 34.1,645.5 35.6,643.3 37.3,639.1 39.0,632.6 41.2,632.6 42.7,624.0 44.8,613.3 47.0,600.5 49.1,587.6 51.2,579.0 53.4,575.8 55.5,579.0 57.7,589.7 59.8,600.5 61.3,615.5 63.5,614.4 65.2,632.6 66.9,639.1 69.0,656.2 70.5,639.1 72.7,636.9 74.8,635.8 76.3,628.3 78.0,617.6 79.8,611.2 81.3,606.9 82.8,609.0 84.9,609.0 86.6,615.5 88.3,619.8 89.8,618.7 91.3,624.0 93.0,630.5 94.8,634.8 96.3,632.6 97.8,619.8 99.5,628.3 101.2,624.0 102.7,613.3 104.2,610.1 105.9,612.3 108.1,609.0 109.8,606.9 111.9,612.3 114.1,614.4 116.3,621.9 118.4,628.3 120.6,632.6 122.7,635.8 124.4,634.8 125.9,628.3 127.4,626.2 129.2,621.9 130.9,617.6 133.0,613.3 134.5,606.9 136.0,600.5 137.7,594.0 139.4,589.7 140.9,585.5 142.0,591.9 143.7,580.1 145.9,581.2 148.0,584.4 150.2,586.5 151.7,583.3 153.8,576.9 156.0,575.8 157.5,576.9 159.2,573.7 161.3,568.3 163.0,581.2 164.5,579.0 166.7,581.2 168.8,584.4 169.9,586.5 172.0,585.5 174.2,583.3 176.3,582.2 178.5,580.1 180.6,576.9 182.7,573.7 184.5,571.5 186.0,566.2 187.5,572.6 189.2,571.5 190.9,574.7 192.4,583.3 194.5,596.2 196.7,602.6 198.8,613.3 200.3,621.9 202.0,630.5 203.1,634.8 204.6,633.7 206.3,631.5 208.0,624.0 209.5,617.6 211.0,609.0 212.8,600.5 214.5,591.9 216.6,595.1 218.8,596.2 220.9,596.2 222.4,602.6 225.0,615.5" stroke="#0000ff"/><polyline points="6.2,632.6 8.4,627.3 10.5,626.2 12.6,615.5 14.8,608.0 16.9,602.6 18.4,597.2 20.6,602.6 22.3,597.2 24.0,594.0 26.2,598.3 28.3,602.6 30.4,604.7 32.6,606.9 34.7,611.2 36.9,617.6 39.0,621.9 41.2,623.0 43.3,617.6 45.4,606.9 47.6,600.5 49.7,589.7 51.9,579.0 54.0,573.7 55.5,569.4 56.6,576.9 58.3,567.2 59.8,576.9 61.3,579.0 63.5,583.3 65.2,589.7 66.9,598.3 69.0,606.9 71.2,615.5 73.3,621.9 74.8,626.2 76.3,628.3 78.5,628.3 80.6,632.6 82.8,634.8 84.5,632.6 86.2,634.8 88.3,636.9 90.5,635.8 92.6,635.8 94.8,634.8 96.3,645.5 97.8,634.8 99.5,634.8 101.2,638.0 103.3,632.6 105.5,628.3 107.6,624.0 109.1,615.5 111.3,602.6 113.4,600.5 114.9,596.2 115.2,596.2 116.7,591.9 118.4,586.5 120.6,586.5 122.7,583.3 124.4,582.2 126.6,581.2 128.1,585.5 130.2,590.8 132.4,593.0 134.5,596.2 136.0,598.3 137.7,606.9 139.4,604.7 140.9,598.3 142.4,606.9 144.2,611.2 145.9,606.9 148.0,609.0 150.2,611.2 152.3,612.3 154.4,615.5 156.0,609.0 157.5,613.3 159.2,608.0 161.3,606.9 163.5,609.0 165.6,612.3 167.7,612.3 169.9,604.7 171.6,621.9 173.1,615.5 174.6,614.4 176.3,618.7 178.5,611.2 180.6,603.7 182.7,596.2 184.9,589.7 187.0,579.0 189.2,572.6 190.9,571.5 193.0,574.7 195.6,579.0 197.3,589.7 198.8,600.5 201.0,613.3 203.1,624.0 204.6,630.5 206.3,633.7 208.0,632.6 209.5,633.7 211.0,621.9 212.8,609.0 214.5,596.2 216.6,587.6 218.8,585.5 220.3,579.0 221.8,573.7 223.5,572.6 225.0,579.0" stroke="#ff0000" stroke-opacity="0.2" stroke-width="2.4"/><polyline points="6.2,632.6 8.4,627.3 10.5,626.2 12.6,615.5 14.8,608.0 16.9,602.6 18.4,597.2 20.6,602.6 22.3,597.2 24.0,594.0 26.2,598.3 28.3,602.6 30.4,604.7 32.6,606.9 34.7,611.2 36.9,617.6 39.0,621.9 41.2,623.0 43.3,617.6 45.4,606.9 47.6,600.5 49.7,589.7 51.9,579.0 54.0,573.7 55.5,569.4 56.6,576.9 58.3,567.2 59.8,576.9 61.3,579.0 63.5,583.3 65.2,589.7 66.9,598.3 69.0,606.9 71.2,615.5 73.3,621.9 74.8,626.2 76.3,628.3 78.5,628.3 80.6,632.6 82.8,634.8 84.5,632.6 86.2,634.8 88.3,636.9 90.5,635.8 92.6,635.8 94.8,634.8 96.3,645.5 97.8,634.8 99.5,634.8 101.2,638.0 103.3,632.6 105.5,628.3 107.6,624.0 109.1,615.5 111.3,602.6 113.4,600.5 114.9,596.2 115.2,596.2 116.7,591.9 118.4,586.5 120.6,586.5 122.7,583.3 124.4,582.2 126.6,581.2 128.1,585.5 130.2,590.8 132.4,593.0 134.5,596.2 136.0,598.3 137.7,606.9 139.4,604.7 140.9,598.3 142.4,606.9 144.2,611.2 145.9,606.9 148.0,609.0 150.2,611.2 152.3,612.3 154.4,615.5 156.0,609.0 157.5,613.3 159.2,608.0 161.3,606.9 163.5,609.0 165.6,612.3 167.7,612.3 169.9,604.7 171.6,621.9 173.1,615.5 174.6,614.4 176.3,618.7 178.5,611.2 180.6,603.7 182.7,596.2 184.9,589.7 187.0,579.0 189.2,572.6 190.9,571.5 193.0,574.7 195.6,579.0 197.3,589.7 198.8,600.5 201.0,613.3 203.1,624.0 204.6,630.5 206.3,633.7 208.0,632.6 209.5,633.7 211.0,621.9 212.8,609.0 214.5,596.2 216.6,587.6 218.8,585.5 220.3,579.0 221.8,573.7 223.5,572.6 225.0,579.0" stroke="#ff0000"/></g>
<line x1="5.3" y1="536.6" x2="5.3" y2="676.1" stroke="#7a7a7a" stroke-width="1.5"/>
<line x1="225" y1="536.6" x2="225" y2="676.1" stroke="#7a7a7a" stroke-width="1.5"/>
<line x1="4.6" y1="536.6" x2="225.7" y2="536.6" stroke="#454545" stroke-width="2.2"/>
<line x1="4.6" y1="676.1" x2="225.7" y2="676.1" stroke="#303030" stroke-width="2.2"/>
<text transform="translate(87.30,530.00) scale(1.035,1)" style="stroke-width:0.7px;stroke-opacity:0.2">16QAM</text>
<text transform="translate(87.30,530.00) scale(1.035,1)">16QAM</text>
<g clip-path="url(#c10)" fill="none" stroke-opacity="0.72" stroke-width="1.0" stroke-linejoin="round"><polyline points="272.2,653.0 273.7,649.8 275.4,628.3 277.6,602.6 279.3,579.0 281.4,589.7 282.9,602.6 284.4,602.6 286.6,621.9 288.3,634.8 290.0,609.0 291.5,611.2 293.0,636.9 294.7,641.2 296.9,583.3 299.0,609.0 301.6,556.5 303.3,598.3 305.0,641.2 306.5,626.2 308.0,558.7 309.7,634.8 311.4,594.0 313.0,609.0 314.5,619.8 316.2,632.6 317.9,602.6 320.0,660.5 321.5,602.6 323.0,619.8 325.2,647.6 326.9,609.0 328.6,619.8 330.7,585.5 332.9,617.6 334.4,604.7 336.5,615.5 338.7,598.3 340.2,579.0 341.9,626.2 344.0,628.3 346.2,611.2 348.8,596.2 350.5,626.2 352.2,654.1 353.7,600.5 355.2,596.2 357.3,589.7 359.0,591.9 360.8,596.2 362.9,602.6 365.0,576.9 367.2,589.7 368.7,559.7 370.8,589.7 372.3,643.3 374.1,646.6 375.8,585.5 377.3,628.3 378.8,636.9 380.7,573.7 382.4,641.2 384.1,604.7 386.7,585.5 388.4,615.5 390.6,611.2 392.7,609.0 394.9,587.6 397.0,581.2 399.2,585.5 400.7,615.5 402.8,576.9 404.9,617.6 407.1,626.2 409.2,649.8 410.7,585.5 412.4,556.5 414.6,600.5 416.7,619.8 418.9,645.5 420.6,559.7 422.7,604.7 424.2,621.9 425.7,602.6 427.5,582.2 429.2,636.9 430.7,609.0 432.2,602.6 433.9,596.2 436.0,591.9 437.7,574.7 439.9,587.6 441.4,615.5 444.2,555.4 445.7,589.7 447.8,615.5 450.0,585.5 451.5,602.6 453.2,600.5 454.9,591.9 457.0,611.2 459.6,653.0 461.3,583.3 463.5,598.3 465.6,598.3 467.8,604.7 469.9,609.0 472.9,572.6 474.6,609.0 476.8,596.2 478.5,587.6 480.6,591.9 482.8,611.2 484.3,617.6 486.4,641.2" stroke="#0000ff" stroke-opacity="0.2" stroke-width="2.4"/><polyline points="272.2,653.0 273.7,649.8 275.4,628.3 277.6,602.6 279.3,579.0 281.4,589.7 282.9,602.6 284.4,602.6 286.6,621.9 288.3,634.8 290.0,609.0 291.5,611.2 293.0,636.9 294.7,641.2 296.9,583.3 299.0,609.0 301.6,556.5 303.3,598.3 305.0,641.2 306.5,626.2 308.0,558.7 309.7,634.8 311.4,594.0 313.0,609.0 314.5,619.8 316.2,632.6 317.9,602.6 320.0,660.5 321.5,602.6 323.0,619.8 325.2,647.6 326.9,609.0 328.6,619.8 330.7,585.5 332.9,617.6 334.4,604.7 336.5,615.5 338.7,598.3 340.2,579.0 341.9,626.2 344.0,628.3 346.2,611.2 348.8,596.2 350.5,626.2 352.2,654.1 353.7,600.5 355.2,596.2 357.3,589.7 359.0,591.9 360.8,596.2 362.9,602.6 365.0,576.9 367.2,589.7 368.7,559.7 370.8,589.7 372.3,643.3 374.1,646.6 375.8,585.5 377.3,628.3 378.8,636.9 380.7,573.7 382.4,641.2 384.1,604.7 386.7,585.5 388.4,615.5 390.6,611.2 392.7,609.0 394.9,587.6 397.0,581.2 399.2,585.5 400.7,615.5 402.8,576.9 404.9,617.6 407.1,626.2 409.2,649.8 410.7,585.5 412.4,556.5 414.6,600.5 416.7,619.8 418.9,645.5 420.6,559.7 422.7,604.7 424.2,621.9 425.7,602.6 427.5,582.2 429.2,636.9 430.7,609.0 432.2,602.6 433.9,596.2 436.0,591.9 437.7,574.7 439.9,587.6 441.4,615.5 444.2,555.4 445.7,589.7 447.8,615.5 450.0,585.5 451.5,602.6 453.2,600.5 454.9,591.9 457.0,611.2 459.6,653.0 461.3,583.3 463.5,598.3 465.6,598.3 467.8,604.7 469.9,609.0 472.9,572.6 474.6,609.0 476.8,596.2 478.5,587.6 480.6,591.9 482.8,611.2 484.3,617.6 486.4,641.2" stroke="#0000ff"/><polyline points="272.2,587.6 273.7,604.7 275.4,626.2 277.1,628.3 278.6,585.5 280.8,615.5 282.3,594.0 284.4,598.3 286.2,615.5 287.9,619.8 290.0,598.3 291.5,600.5 293.0,656.2 294.7,615.5 296.4,560.8 298.6,583.3 300.1,609.0 301.6,645.5 303.3,611.2 305.0,621.9 306.5,594.0 308.7,604.7 310.8,634.8 313.0,624.0 315.1,587.6 316.6,636.9 318.3,645.5 320.5,598.3 322.6,615.5 324.7,581.2 326.5,615.5 328.6,598.3 330.1,609.0 331.6,615.5 333.3,558.7 335.5,598.3 337.2,585.5 338.7,626.2 340.4,579.0 342.3,609.0 344.0,587.6 346.6,554.4 348.3,587.6 350.0,615.5 352.2,617.6 353.7,650.8 355.2,624.0 356.9,570.4 359.0,598.3 360.8,579.0 362.9,579.0 365.0,566.2 367.2,587.6 368.7,561.9 370.2,594.0 371.9,574.7 374.1,604.7 376.2,606.9 378.3,598.3 382.0,624.0 384.1,649.8 386.3,609.0 388.4,594.0 390.6,604.7 392.7,639.1 394.9,604.7 397.4,561.9 399.6,589.7 401.7,583.3 403.9,617.6 406.0,624.0 408.2,615.5 410.3,572.6 412.0,626.2 414.2,651.9 415.7,598.3 417.8,559.7 420.0,589.7 422.1,611.2 423.6,624.0 425.7,591.9 427.9,585.5 430.0,604.7 432.2,630.5 433.9,621.9 436.0,570.4 437.7,634.8 439.2,550.1 441.4,585.5 442.9,630.5 445.0,589.7 446.7,598.3 448.9,624.0 450.6,609.0 452.1,594.0 453.6,609.0 455.8,566.2 457.5,615.5 459.2,621.9 460.7,602.6 462.8,624.0 465.0,611.2 467.1,591.9 469.3,598.3 471.4,621.9 473.5,589.7 475.7,644.4 477.2,604.7 478.9,589.7 481.1,611.2 483.2,569.4 484.9,602.6 486.4,604.7" stroke="#ff0000" stroke-opacity="0.2" stroke-width="2.4"/><polyline points="272.2,587.6 273.7,604.7 275.4,626.2 277.1,628.3 278.6,585.5 280.8,615.5 282.3,594.0 284.4,598.3 286.2,615.5 287.9,619.8 290.0,598.3 291.5,600.5 293.0,656.2 294.7,615.5 296.4,560.8 298.6,583.3 300.1,609.0 301.6,645.5 303.3,611.2 305.0,621.9 306.5,594.0 308.7,604.7 310.8,634.8 313.0,624.0 315.1,587.6 316.6,636.9 318.3,645.5 320.5,598.3 322.6,615.5 324.7,581.2 326.5,615.5 328.6,598.3 330.1,609.0 331.6,615.5 333.3,558.7 335.5,598.3 337.2,585.5 338.7,626.2 340.4,579.0 342.3,609.0 344.0,587.6 346.6,554.4 348.3,587.6 350.0,615.5 352.2,617.6 353.7,650.8 355.2,624.0 356.9,570.4 359.0,598.3 360.8,579.0 362.9,579.0 365.0,566.2 367.2,587.6 368.7,561.9 370.2,594.0 371.9,574.7 374.1,604.7 376.2,606.9 378.3,598.3 382.0,624.0 384.1,649.8 386.3,609.0 388.4,594.0 390.6,604.7 392.7,639.1 394.9,604.7 397.4,561.9 399.6,589.7 401.7,583.3 403.9,617.6 406.0,624.0 408.2,615.5 410.3,572.6 412.0,626.2 414.2,651.9 415.7,598.3 417.8,559.7 420.0,589.7 422.1,611.2 423.6,624.0 425.7,591.9 427.9,585.5 430.0,604.7 432.2,630.5 433.9,621.9 436.0,570.4 437.7,634.8 439.2,550.1 441.4,585.5 442.9,630.5 445.0,589.7 446.7,598.3 448.9,624.0 450.6,609.0 452.1,594.0 453.6,609.0 455.8,566.2 457.5,615.5 459.2,621.9 460.7,602.6 462.8,624.0 465.0,611.2 467.1,591.9 469.3,598.3 471.4,621.9 473.5,589.7 475.7,644.4 477.2,604.7 478.9,589.7 481.1,611.2 483.2,569.4 484.9,602.6 486.4,604.7" stroke="#ff0000"/></g>
<line x1="271.6" y1="536.6" x2="271.6" y2="677" stroke="#7a7a7a" stroke-width="1.5"/>
<line x1="486.4" y1="536.6" x2="486.4" y2="677" stroke="#7a7a7a" stroke-width="1.5"/>
<line x1="270.90000000000003" y1="536.6" x2="487.09999999999997" y2="536.6" stroke="#454545" stroke-width="2.2"/>
<line x1="270.90000000000003" y1="677" x2="487.09999999999997" y2="677" stroke="#4a4a4a" stroke-width="2.2"/>
<text transform="translate(349.40,530.00) scale(1.035,1)" style="stroke-width:0.7px;stroke-opacity:0.2">64QAM</text>
<text transform="translate(349.40,530.00) scale(1.035,1)">64QAM</text>
</g>
</svg>
</body></html>
